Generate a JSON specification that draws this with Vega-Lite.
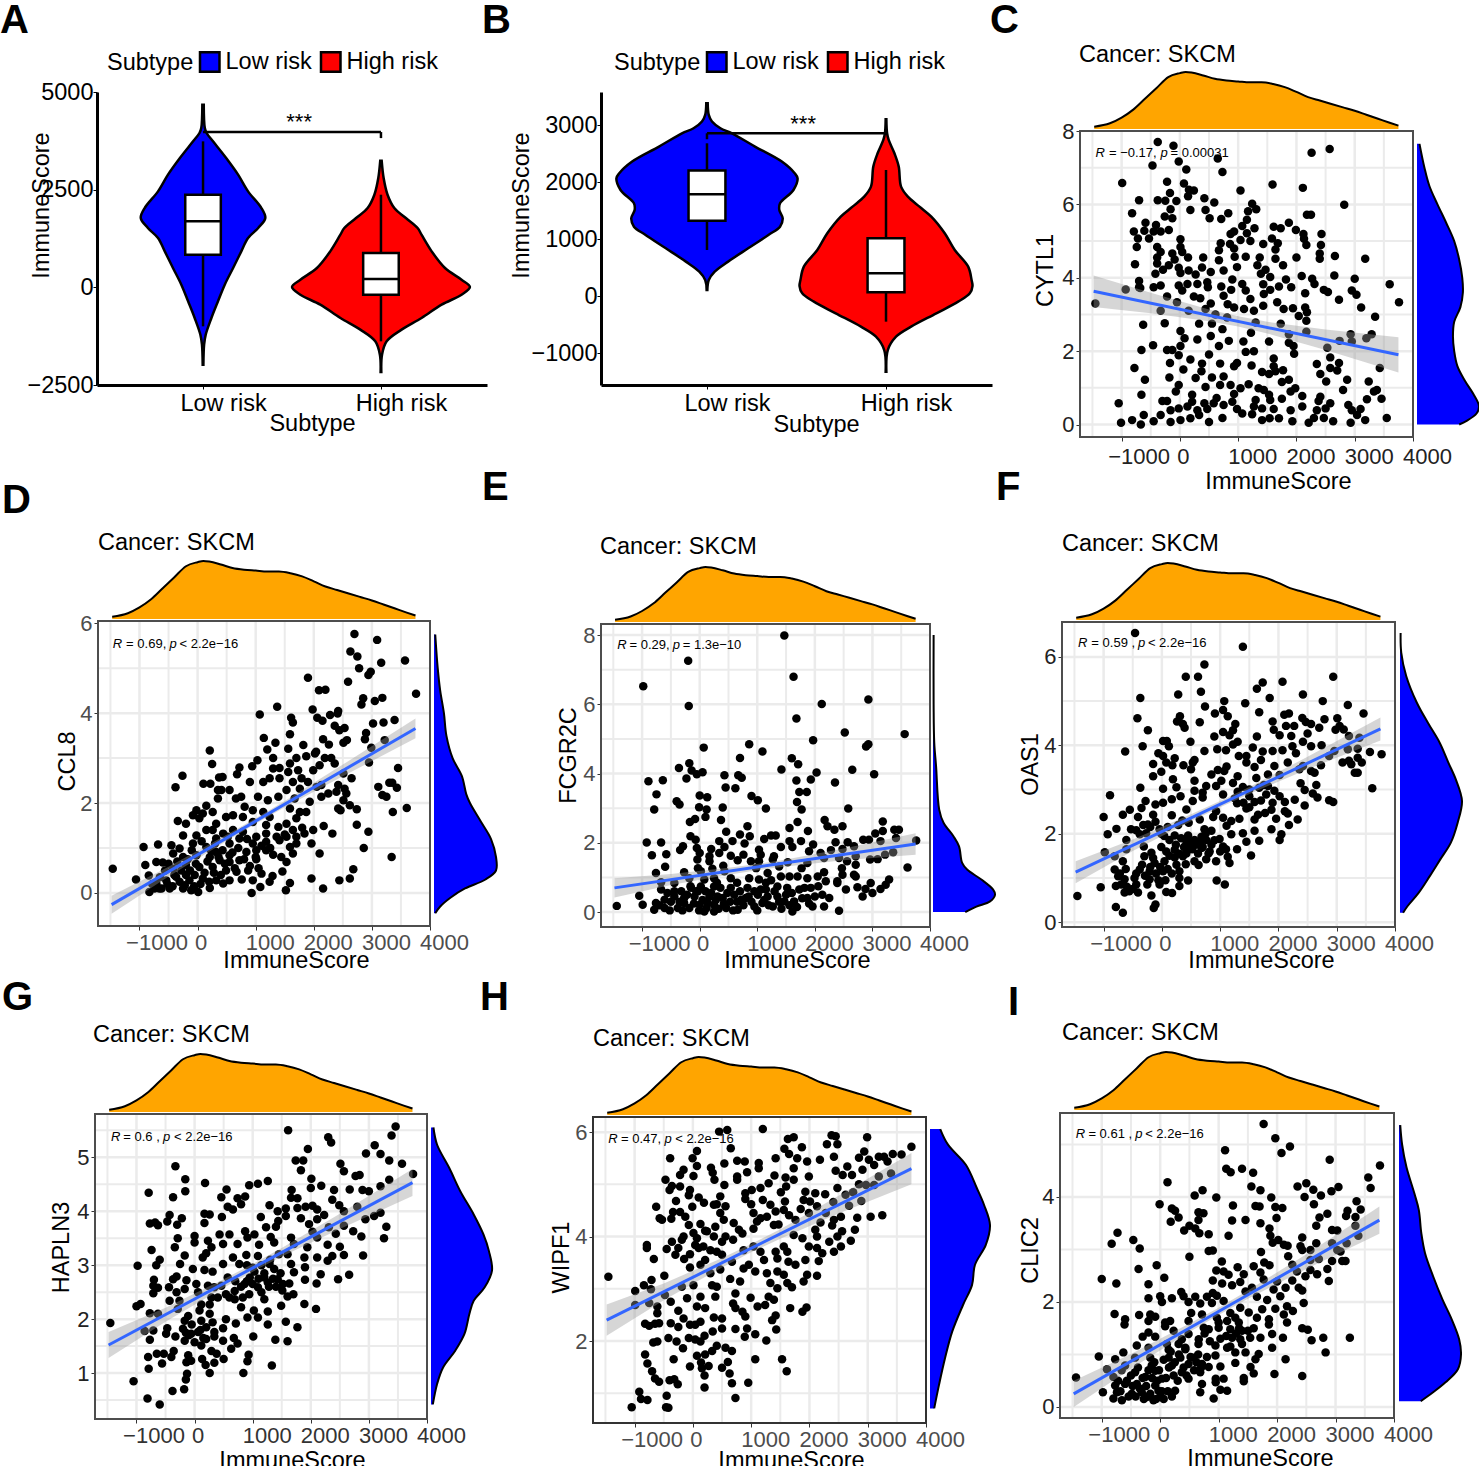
{"$schema":"https://vega.github.io/schema/vega-lite/v6.json","padding":0,"background":"white","config":{"font":"Liberation Sans","view":{"stroke":null},"title":{"fontSize":23.5,"fontWeight":"normal","anchor":"start","frame":"group","offset":0,"baseline":"alphabetic"},"axis":{"labelFontSize":22,"titleFontSize":23.5,"titleFontWeight":"normal","titleColor":"black","labelOverlap":false,"labelBound":false,"labelFlush":false,"domain":false,"grid":false,"tickSize":4,"tickColor":"#333333","labelColor":"#4D4D4D"}},
"datasets":{"none":[],
"top":[{"x":-1470,"d":0.04},{"x":-1200,"d":0.1},{"x":-1000,"d":0.2},{"x":-800,"d":0.34},{"x":-600,"d":0.53},{"x":-400,"d":0.72},{"x":-200,"d":0.91},{"x":0,"d":0.98},{"x":100,"d":1},{"x":200,"d":0.99},{"x":400,"d":0.94},{"x":600,"d":0.88},{"x":800,"d":0.85},{"x":1000,"d":0.835},{"x":1200,"d":0.82},{"x":1400,"d":0.82},{"x":1600,"d":0.79},{"x":1800,"d":0.735},{"x":2000,"d":0.65},{"x":2200,"d":0.56},{"x":2400,"d":0.5},{"x":2600,"d":0.44},{"x":2800,"d":0.38},{"x":3000,"d":0.32},{"x":3200,"d":0.25},{"x":3400,"d":0.18},{"x":3600,"d":0.11},{"x":3750,"d":0.06}],
"violinA":[{"group":"Low risk","y":4675,"l":0.996,"r":1.004},{"group":"Low risk","y":4078,"l":0.99,"r":1.01},{"group":"Low risk","y":3950,"l":0.98,"r":1.02},{"group":"Low risk","y":3737,"l":0.944,"r":1.056},{"group":"Low risk","y":3310,"l":0.87,"r":1.13},{"group":"Low risk","y":2884,"l":0.803,"r":1.197},{"group":"Low risk","y":2457,"l":0.747,"r":1.253},{"group":"Low risk","y":2030,"l":0.672,"r":1.328},{"group":"Low risk","y":1775,"l":0.65,"r":1.35},{"group":"Low risk","y":1519,"l":0.69,"r":1.31},{"group":"Low risk","y":1263,"l":0.747,"r":1.253},{"group":"Low risk","y":921,"l":0.785,"r":1.215},{"group":"Low risk","y":495,"l":0.831,"r":1.169},{"group":"Low risk","y":68,"l":0.878,"r":1.122},{"group":"Low risk","y":-358,"l":0.916,"r":1.084},{"group":"Low risk","y":-785,"l":0.953,"r":1.047},{"group":"Low risk","y":-1211,"l":0.985,"r":1.015},{"group":"Low risk","y":-1467,"l":0.994,"r":1.006},{"group":"Low risk","y":-1979,"l":0.998,"r":1.002},
{"group":"High risk","y":3241,"l":1.996,"r":2.004},{"group":"High risk","y":2798,"l":1.985,"r":2.015},{"group":"High risk","y":2371,"l":1.963,"r":2.037},{"group":"High risk","y":2030,"l":1.925,"r":2.075},{"group":"High risk","y":1774,"l":1.86,"r":2.14},{"group":"High risk","y":1518,"l":1.794,"r":2.206},{"group":"High risk","y":1348,"l":1.772,"r":2.228},{"group":"High risk","y":921,"l":1.715,"r":2.285},{"group":"High risk","y":495,"l":1.64,"r":2.36},{"group":"High risk","y":196,"l":1.547,"r":2.453},{"group":"High risk","y":9,"l":1.5,"r":2.5},{"group":"High risk","y":-188,"l":1.547,"r":2.453},{"group":"High risk","y":-444,"l":1.659,"r":2.341},{"group":"High risk","y":-785,"l":1.772,"r":2.228},{"group":"High risk","y":-1083,"l":1.884,"r":2.116},{"group":"High risk","y":-1382,"l":1.968,"r":2.032},{"group":"High risk","y":-1723,"l":1.994,"r":2.006},{"group":"High risk","y":-2167,"l":1.998,"r":2.002}],
"boxA":[{"c":1,"l":0.9,"r":1.1,"lo":-998,"q1":836,"med":1689,"q3":2371,"hi":3737},{"c":2,"l":1.9,"r":2.1,"lo":-1382,"q1":-188,"med":213,"q3":879,"hi":2371}],
"violinB":[{"group":"Low risk","y":3381,"l":0.996,"r":1.004},{"group":"Low risk","y":3177,"l":0.99,"r":1.01},{"group":"Low risk","y":3060,"l":0.972,"r":1.028},{"group":"Low risk","y":2943,"l":0.925,"r":1.075},{"group":"Low risk","y":2855,"l":0.86,"r":1.14},{"group":"Low risk","y":2621,"l":0.732,"r":1.268},{"group":"Low risk","y":2358,"l":0.582,"r":1.418},{"group":"Low risk","y":2153,"l":0.51,"r":1.49},{"group":"Low risk","y":2065,"l":0.494,"r":1.506},{"group":"Low risk","y":1860,"l":0.517,"r":1.483},{"group":"Low risk","y":1626,"l":0.592,"r":1.408},{"group":"Low risk","y":1509,"l":0.596,"r":1.404},{"group":"Low risk","y":1363,"l":0.577,"r":1.423},{"group":"Low risk","y":1217,"l":0.592,"r":1.408},{"group":"Low risk","y":1071,"l":0.657,"r":1.343},{"group":"Low risk","y":837,"l":0.77,"r":1.23},{"group":"Low risk","y":603,"l":0.882,"r":1.118},{"group":"Low risk","y":427,"l":0.957,"r":1.043},{"group":"Low risk","y":281,"l":0.99,"r":1.01},{"group":"Low risk","y":105,"l":0.998,"r":1.002},
{"group":"High risk","y":3100,"l":1.998,"r":2.002},{"group":"High risk","y":2855,"l":1.994,"r":2.006},{"group":"High risk","y":2738,"l":1.985,"r":2.015},{"group":"High risk","y":2504,"l":1.953,"r":2.047},{"group":"High risk","y":2270,"l":1.929,"r":2.071},{"group":"High risk","y":1919,"l":1.916,"r":2.084},{"group":"High risk","y":1743,"l":1.878,"r":2.122},{"group":"High risk","y":1568,"l":1.813,"r":2.187},{"group":"High risk","y":1392,"l":1.747,"r":2.253},{"group":"High risk","y":1100,"l":1.672,"r":2.328},{"group":"High risk","y":807,"l":1.616,"r":2.384},{"group":"High risk","y":515,"l":1.541,"r":2.459},{"group":"High risk","y":281,"l":1.522,"r":2.478},{"group":"High risk","y":175,"l":1.517,"r":2.483},{"group":"High risk","y":47,"l":1.532,"r":2.468},{"group":"High risk","y":-99,"l":1.597,"r":2.403},{"group":"High risk","y":-304,"l":1.719,"r":2.281},{"group":"High risk","y":-538,"l":1.86,"r":2.14},{"group":"High risk","y":-714,"l":1.944,"r":2.056},{"group":"High risk","y":-948,"l":1.99,"r":2.01},{"group":"High risk","y":-1328,"l":1.998,"r":2.002}],
"boxB":[{"c":1,"l":0.897,"r":1.103,"lo":807,"q1":1322,"med":1784,"q3":2200,"hi":2679},{"c":2,"l":1.897,"r":2.103,"lo":-450,"q1":64,"med":398,"q3":1012,"hi":2211}],
"cytl1":[{"x":-380,"y":7.7},{"x":-110,"y":7.6},{"x":-470,"y":7.06},{"x":-20,"y":7.17},{"x":110,"y":6.95},{"x":650,"y":7.25},{"x":730,"y":6.88},{"x":2260,"y":7.41},{"x":2570,"y":7.51},{"x":-990,"y":6.58},{"x":-220,"y":6.62},{"x":70,"y":6.57},{"x":155,"y":6.4},{"x":240,"y":6.38},{"x":-170,"y":6.31},{"x":-700,"y":6.11},{"x":-380,"y":6.11},{"x":-250,"y":6.1},{"x":-60,"y":6.09},{"x":140,"y":6.22},{"x":420,"y":6.17},{"x":590,"y":6.05},{"x":1040,"y":6.38},{"x":1590,"y":6.54},{"x":2110,"y":6.45},{"x":2820,"y":5.99},{"x":-820,"y":5.76},{"x":-160,"y":5.87},{"x":180,"y":5.85},{"x":440,"y":5.85},{"x":830,"y":5.76},{"x":1240,"y":6.02},{"x":1170,"y":5.81},{"x":1310,"y":5.87},{"x":-260,"y":5.67},{"x":-130,"y":5.62},{"x":510,"y":5.62},{"x":710,"y":5.6},{"x":2180,"y":5.72},{"x":2250,"y":5.72},{"x":-590,"y":5.5},{"x":-410,"y":5.44},{"x":-610,"y":5.28},{"x":-790,"y":5.26},{"x":-450,"y":5.26},{"x":-330,"y":5.26},{"x":-190,"y":5.3},{"x":-720,"y":5.07},{"x":-530,"y":5.07},{"x":-740,"y":4.84},{"x":10,"y":5.05},{"x":10,"y":4.84},{"x":-390,"y":4.84},{"x":1150,"y":5.58},{"x":1070,"y":5.41},{"x":930,"y":5.26},{"x":870,"y":5.19},{"x":1280,"y":5.35},{"x":1150,"y":5.21},{"x":1040,"y":5.03},{"x":1210,"y":5},{"x":860,"y":4.92},{"x":700,"y":4.94},{"x":1610,"y":5.39},{"x":1730,"y":5.35},{"x":1870,"y":5.5},{"x":1990,"y":5.3},{"x":2120,"y":5.19},{"x":2130,"y":5.06},{"x":2430,"y":5.19},{"x":1580,"y":5.07},{"x":1680,"y":4.94},{"x":1430,"y":4.92},{"x":2170,"y":4.89},{"x":2420,"y":4.89},{"x":1640,"y":4.77},{"x":930,"y":4.8},{"x":670,"y":4.75},{"x":2400,"y":4.66},{"x":2400,"y":4.52},{"x":2660,"y":4.59},{"x":3180,"y":4.52},{"x":2000,"y":4.55},{"x":1640,"y":4.52},{"x":1370,"y":4.55},{"x":1130,"y":4.57},{"x":940,"y":4.57},{"x":670,"y":4.48},{"x":400,"y":4.55},{"x":140,"y":4.55},{"x":40,"y":4.7},{"x":-130,"y":4.66},{"x":-330,"y":4.7},{"x":-390,"y":4.55},{"x":-90,"y":4.5},{"x":-770,"y":4.37},{"x":-390,"y":4.39},{"x":-190,"y":4.34},{"x":-290,"y":4.22},{"x":-20,"y":4.27},{"x":-420,"y":4.11},{"x":10,"y":4.13},{"x":150,"y":4.2},{"x":270,"y":4.09},{"x":380,"y":4.28},{"x":530,"y":4.16},{"x":750,"y":4.2},{"x":980,"y":4.29},{"x":1330,"y":4.34},{"x":1470,"y":4.22},{"x":1390,"y":4.11},{"x":1770,"y":4.34},{"x":2090,"y":4.05},{"x":1550,"y":4.02},{"x":1820,"y":3.95},{"x":2270,"y":3.97},{"x":3000,"y":3.97},{"x":2650,"y":4.06},{"x":-700,"y":3.91},{"x":-700,"y":3.74},{"x":-450,"y":3.74},{"x":-330,"y":3.79},{"x":-20,"y":3.79},{"x":130,"y":3.83},{"x":40,"y":3.65},{"x":300,"y":3.83},{"x":470,"y":3.88},{"x":480,"y":3.74},{"x":710,"y":3.76},{"x":750,"y":3.51},{"x":900,"y":3.95},{"x":880,"y":3.67},{"x":1070,"y":3.83},{"x":1130,"y":3.65},{"x":1430,"y":3.82},{"x":1440,"y":3.56},{"x":1550,"y":3.67},{"x":1700,"y":3.76},{"x":1910,"y":3.74},{"x":2150,"y":3.58},{"x":2310,"y":3.83},{"x":2470,"y":3.67},{"x":2540,"y":3.61},{"x":2950,"y":3.65},{"x":3030,"y":3.54},{"x":3600,"y":3.82},{"x":2730,"y":3.4},{"x":3110,"y":3.19},{"x":3760,"y":3.33},{"x":-1450,"y":3.3},{"x":-930,"y":3.68},{"x":-680,"y":3.72},{"x":-220,"y":3.49},{"x":-50,"y":3.33},{"x":240,"y":3.49},{"x":350,"y":3.44},{"x":530,"y":3.3},{"x":820,"y":3.28},{"x":1210,"y":3.42},{"x":1670,"y":3.33},{"x":1430,"y":3.24},{"x":1780,"y":3.15},{"x":1940,"y":3.17},{"x":2150,"y":3.19},{"x":2180,"y":3.06},{"x":2040,"y":2.96},{"x":-330,"y":3.1},{"x":150,"y":3.1},{"x":440,"y":3.15},{"x":610,"y":3},{"x":930,"y":3.19},{"x":1100,"y":3.15},{"x":1270,"y":3.1},{"x":810,"y":2.92},{"x":1300,"y":2.78},{"x":2170,"y":2.83},{"x":1730,"y":2.75},{"x":330,"y":2.75},{"x":550,"y":2.75},{"x":-630,"y":2.72},{"x":-260,"y":2.76},{"x":3350,"y":2.94},{"x":10,"y":2.55},{"x":730,"y":2.6},{"x":1220,"y":2.5},{"x":2170,"y":2.53},{"x":1870,"y":2.46},{"x":2930,"y":2.46},{"x":3290,"y":2.46},{"x":3200,"y":2.35},{"x":80,"y":2.35},{"x":530,"y":2.41},{"x":300,"y":2.32},{"x":1530,"y":2.26},{"x":2740,"y":2.28},{"x":2950,"y":2.26},{"x":1870,"y":2.23},{"x":1090,"y":2.26},{"x":-460,"y":2.16},{"x":10,"y":2.14},{"x":670,"y":2.14},{"x":840,"y":2.28},{"x":1950,"y":2.14},{"x":2530,"y":2.09},{"x":-660,"y":2.03},{"x":-220,"y":2.03},{"x":-130,"y":2.03},{"x":1270,"y":2},{"x":1130,"y":1.98},{"x":1960,"y":1.93},{"x":-20,"y":1.89},{"x":500,"y":1.91},{"x":180,"y":1.77},{"x":1610,"y":1.8},{"x":2580,"y":1.83},{"x":-170,"y":1.68},{"x":380,"y":1.66},{"x":690,"y":1.66},{"x":980,"y":1.68},{"x":930,"y":1.59},{"x":2350,"y":1.65},{"x":2730,"y":1.68},{"x":1230,"y":1.61},{"x":1610,"y":1.59},{"x":-780,"y":1.54},{"x":60,"y":1.5},{"x":370,"y":1.45},{"x":1770,"y":1.48},{"x":2580,"y":1.54},{"x":3430,"y":1.54},{"x":1410,"y":1.43},{"x":1530,"y":1.38},{"x":1640,"y":1.45},{"x":2410,"y":1.38},{"x":2700,"y":1.47},{"x":-600,"y":1.22},{"x":-180,"y":1.28},{"x":270,"y":1.27},{"x":550,"y":1.28},{"x":750,"y":1.31},{"x":2510,"y":1.17},{"x":2870,"y":1.22},{"x":3240,"y":1.17},{"x":1750,"y":1.16},{"x":1870,"y":1.22},{"x":1180,"y":1.1},{"x":-20,"y":1.08},{"x":690,"y":1.08},{"x":870,"y":1.08},{"x":-70,"y":0.9},{"x":440,"y":1.02},{"x":1040,"y":0.99},{"x":1350,"y":0.99},{"x":1440,"y":0.94},{"x":1980,"y":0.99},{"x":1900,"y":0.9},{"x":2800,"y":0.94},{"x":3380,"y":0.94},{"x":3330,"y":0.9},{"x":-660,"y":0.81},{"x":210,"y":0.81},{"x":630,"y":0.72},{"x":930,"y":0.83},{"x":1530,"y":0.81},{"x":2100,"y":0.78},{"x":2410,"y":0.76},{"x":3460,"y":0.7},{"x":3210,"y":0.69},{"x":-1050,"y":0.58},{"x":-300,"y":0.64},{"x":-220,"y":0.64},{"x":210,"y":0.62},{"x":420,"y":0.58},{"x":580,"y":0.58},{"x":900,"y":0.62},{"x":1300,"y":0.67},{"x":1550,"y":0.67},{"x":1750,"y":0.7},{"x":2380,"y":0.64},{"x":2580,"y":0.58},{"x":2890,"y":0.53},{"x":-160,"y":0.39},{"x":-20,"y":0.44},{"x":130,"y":0.49},{"x":300,"y":0.39},{"x":470,"y":0.42},{"x":750,"y":0.53},{"x":980,"y":0.42},{"x":1270,"y":0.49},{"x":1410,"y":0.44},{"x":1610,"y":0.42},{"x":1900,"y":0.39},{"x":2100,"y":0.49},{"x":2350,"y":0.39},{"x":2500,"y":0.44},{"x":2950,"y":0.39},{"x":3100,"y":0.42},{"x":-1010,"y":0.05},{"x":-820,"y":0.12},{"x":-670,"y":0},{"x":-620,"y":0.26},{"x":-450,"y":0.09},{"x":-330,"y":0.26},{"x":-160,"y":0.07},{"x":10,"y":0.12},{"x":180,"y":0.17},{"x":330,"y":0.26},{"x":500,"y":0.07},{"x":730,"y":0.18},{"x":1070,"y":0.3},{"x":1240,"y":0.28},{"x":1410,"y":0.12},{"x":1540,"y":0.17},{"x":1700,"y":0.17},{"x":1930,"y":0.09},{"x":2210,"y":0.05},{"x":2300,"y":0.18},{"x":2630,"y":0.09},{"x":2470,"y":0.18},{"x":2930,"y":0.05},{"x":3040,"y":0.26},{"x":3180,"y":0.12},{"x":3550,"y":0.18}],
"ccl8":[{"x":-1460,"y":0.54},{"x":-1060,"y":0.3},{"x":-930,"y":1.02},{"x":-900,"y":0.62},{"x":-680,"y":1.08},{"x":-840,"y":0.39},{"x":-710,"y":0.69},{"x":-600,"y":0.68},{"x":-450,"y":1.06},{"x":-420,"y":0.88},{"x":-340,"y":1.6},{"x":-380,"y":2.35},{"x":-260,"y":2.61},{"x":100,"y":2.43},{"x":220,"y":2.43},{"x":210,"y":3.17},{"x":250,"y":2.87},{"x":370,"y":2.57},{"x":430,"y":2.58},{"x":350,"y":2.29},{"x":410,"y":2.29},{"x":350,"y":2.1},{"x":550,"y":2.29},{"x":680,"y":2.64},{"x":720,"y":2.79},{"x":940,"y":2.82},{"x":1030,"y":2.95},{"x":900,"y":2.47},{"x":1070,"y":3.97},{"x":1370,"y":4.14},{"x":1140,"y":3.45},{"x":1340,"y":3.34},{"x":1200,"y":3.19},{"x":1300,"y":3},{"x":1560,"y":3.21},{"x":1590,"y":3.53},{"x":1610,"y":3.9},{"x":1640,"y":3.79},{"x":1820,"y":3.29},{"x":1900,"y":4.79},{"x":1980,"y":4.08},{"x":2060,"y":3.9},{"x":2150,"y":3.83},{"x":2090,"y":4.51},{"x":2200,"y":4.52},{"x":2280,"y":3.96},{"x":2420,"y":4.05},{"x":2410,"y":3.99},{"x":2360,"y":3.72},{"x":2440,"y":3.62},{"x":2530,"y":3.67},{"x":2160,"y":3.42},{"x":2260,"y":3.3},{"x":2510,"y":3.34},{"x":2570,"y":3.4},{"x":2590,"y":4.7},{"x":2630,"y":5.37},{"x":2700,"y":5.76},{"x":2750,"y":5.26},{"x":2780,"y":5},{"x":2940,"y":4.85},{"x":2980,"y":4.92},{"x":3090,"y":5.63},{"x":3160,"y":5.12},{"x":3570,"y":5.17},{"x":3760,"y":4.43},{"x":2850,"y":4.33},{"x":2820,"y":4.19},{"x":3050,"y":4.27},{"x":3180,"y":4.34},{"x":3020,"y":3.77},{"x":3200,"y":3.79},{"x":3390,"y":3.85},{"x":2900,"y":3.56},{"x":2880,"y":3.42},{"x":3220,"y":3.4},{"x":2990,"y":3.23},{"x":2950,"y":2.9},{"x":3450,"y":2.78},{"x":3110,"y":2.36},{"x":3300,"y":2.45},{"x":3350,"y":2.45},{"x":3430,"y":2.34},{"x":3180,"y":2.18},{"x":3250,"y":2.14},{"x":3360,"y":1.8},{"x":3600,"y":1.89},{"x":3340,"y":0.8},{"x":2940,"y":1.36},{"x":2740,"y":1.52},{"x":2860,"y":1},{"x":2680,"y":0.53},{"x":2620,"y":0.32},{"x":2440,"y":0.28},{"x":2160,"y":0.1},{"x":1960,"y":0.32},{"x":2100,"y":0.88},{"x":2320,"y":1.32},{"x":2170,"y":1.49},{"x":1520,"y":0.06},{"x":1590,"y":0.22},{"x":930,"y":0},{"x":1080,"y":0.13},{"x":1240,"y":0.25},{"x":1290,"y":0.38},{"x":1460,"y":0.48},{"x":1530,"y":0.69},{"x":1440,"y":0.8},{"x":1640,"y":0.88},{"x":1410,"y":2.78},{"x":1590,"y":2.88},{"x":1700,"y":3},{"x":1870,"y":3.04},{"x":2020,"y":3.1},{"x":2040,"y":3.14},{"x":2190,"y":3},{"x":2300,"y":3},{"x":2360,"y":2.88},{"x":1990,"y":2.73},{"x":2100,"y":2.84},{"x":1560,"y":2.69},{"x":1730,"y":2.73},{"x":1300,"y":2.77},{"x":1240,"y":2.55},{"x":1130,"y":2.47},{"x":1410,"y":2.55},{"x":1640,"y":2.47},{"x":1790,"y":2.55},{"x":1900,"y":2.47},{"x":1760,"y":2.32},{"x":2050,"y":2.36},{"x":2130,"y":2.4},{"x":2420,"y":2.4},{"x":2530,"y":2.32},{"x":2650,"y":2.55},{"x":2510,"y":2.66},{"x":2130,"y":2.14},{"x":2250,"y":2.21},{"x":2390,"y":2.25},{"x":2560,"y":2.21},{"x":2510,"y":2.06},{"x":2620,"y":1.95},{"x":2740,"y":1.86},{"x":2420,"y":1.88},{"x":2460,"y":1.84},{"x":1930,"y":2.03},{"x":1670,"y":2.1},{"x":1530,"y":2.29},{"x":1390,"y":2.14},{"x":1210,"y":2.06},{"x":1040,"y":2.14},{"x":750,"y":2.14},{"x":660,"y":2.1},{"x":150,"y":1.94},{"x":-20,"y":1.84},{"x":260,"y":1.8},{"x":90,"y":1.77},{"x":810,"y":1.92},{"x":950,"y":1.84},{"x":1130,"y":1.8},{"x":1240,"y":1.69},{"x":1590,"y":1.88},{"x":1760,"y":1.8},{"x":1870,"y":1.8},{"x":1700,"y":1.66},{"x":1530,"y":1.54},{"x":1390,"y":1.47},{"x":1180,"y":1.51},{"x":950,"y":1.58},{"x":780,"y":1.69},{"x":610,"y":1.73},{"x":490,"y":1.69},{"x":320,"y":1.54},{"x":30,"y":1.66},{"x":-80,"y":1.73},{"x":-200,"y":1.54},{"x":150,"y":1.4},{"x":260,"y":1.4},{"x":440,"y":1.32},{"x":610,"y":1.4},{"x":780,"y":1.36},{"x":1010,"y":1.25},{"x":1180,"y":1.32},{"x":1360,"y":1.25},{"x":1530,"y":1.25},{"x":1640,"y":1.4},{"x":1840,"y":1.32},{"x":1990,"y":1.4},{"x":1960,"y":1.1},{"x":1700,"y":1.1},{"x":1590,"y":1.02},{"x":1410,"y":1.17},{"x":1180,"y":1.14},{"x":950,"y":1.1},{"x":720,"y":1.21},{"x":550,"y":1.1},{"x":320,"y":1.21},{"x":-20,"y":1.28},{"x":-250,"y":1.28},{"x":-80,"y":1.1},{"x":150,"y":1.02},{"x":-310,"y":0.99},{"x":320,"y":0.91},{"x":550,"y":0.84},{"x":840,"y":0.91},{"x":1010,"y":0.95},{"x":1180,"y":0.95},{"x":720,"y":0.73},{"x":1010,"y":0.75},{"x":550,"y":0.69},{"x":380,"y":0.73},{"x":210,"y":0.8},{"x":-20,"y":0.84},{"x":-250,"y":0.8},{"x":-420,"y":0.54},{"x":-200,"y":0.62},{"x":30,"y":0.58},{"x":260,"y":0.58},{"x":490,"y":0.5},{"x":670,"y":0.47},{"x":870,"y":0.5},{"x":1100,"y":0.43},{"x":950,"y":0.28},{"x":550,"y":0.28},{"x":320,"y":0.28},{"x":90,"y":0.32},{"x":-140,"y":0.28},{"x":-370,"y":0.36},{"x":-540,"y":0.28},{"x":-710,"y":0.21},{"x":-830,"y":0.02},{"x":-660,"y":0.1},{"x":-480,"y":0.1},{"x":-220,"y":0.17},{"x":-110,"y":0.06},{"x":10,"y":0.02},{"x":210,"y":0.11},{"x":440,"y":0.21},{"x":-780,"y":0.2},{"x":-740,"y":0.1},{"x":-650,"y":0.35},{"x":-620,"y":0.1},{"x":-560,"y":0.5},{"x":-520,"y":0.2},{"x":-500,"y":0.65},{"x":-430,"y":0.15},{"x":-400,"y":0.4},{"x":-350,"y":0.7},{"x":-310,"y":0.25},{"x":-280,"y":0.5},{"x":-250,"y":0.1},{"x":-200,"y":0.4},{"x":-170,"y":0.75},{"x":-130,"y":0.5},{"x":-100,"y":0.95},{"x":-60,"y":0.15},{"x":-50,"y":0.4},{"x":-30,"y":0.65},{"x":50,"y":0.2},{"x":70,"y":1.15},{"x":120,"y":0.45},{"x":170,"y":0.7},{"x":200,"y":0.25},{"x":230,"y":0.95},{"x":280,"y":0.45},{"x":300,"y":1.1},{"x":360,"y":0.8},{"x":400,"y":0.4},{"x":430,"y":0.95},{"x":470,"y":0.65},{"x":520,"y":1.25},{"x":600,"y":0.9},{"x":640,"y":0.55},{"x":700,"y":1},{"x":760,"y":0.3},{"x":800,"y":0.75},{"x":850,"y":1.2},{"x":900,"y":0.6},{"x":1000,"y":0.8},{"x":1050,"y":0.55},{"x":1100,"y":1.05},{"x":1250,"y":1},{"x":1300,"y":0.85},{"x":1500,"y":1.3},{"x":1700,"y":1.25},{"x":1800,"y":1.45}],
"fcgr2c":[{"x":-1440,"y":0.18},{"x":-1050,"y":0.47},{"x":-990,"y":0.21},{"x":-980,"y":6.52},{"x":-200,"y":7.26},{"x":1470,"y":7.99},{"x":-190,"y":5.95},{"x":1630,"y":6.8},{"x":2120,"y":6.01},{"x":2930,"y":6.14},{"x":1680,"y":5.59},{"x":2520,"y":5.19},{"x":3560,"y":5.14},{"x":1970,"y":4.96},{"x":860,"y":4.85},{"x":70,"y":4.75},{"x":1090,"y":4.64},{"x":2930,"y":4.85},{"x":2890,"y":4.78},{"x":1600,"y":4.44},{"x":700,"y":4.45},{"x":-180,"y":4.3},{"x":-360,"y":4.16},{"x":1710,"y":4.27},{"x":1420,"y":4.12},{"x":2650,"y":4.11},{"x":-140,"y":4.09},{"x":50,"y":4.04},{"x":-50,"y":3.98},{"x":2030,"y":4.03},{"x":3030,"y":3.98},{"x":430,"y":3.95},{"x":670,"y":3.95},{"x":730,"y":3.88},{"x":-890,"y":3.78},{"x":-640,"y":3.81},{"x":-230,"y":3.86},{"x":1930,"y":3.83},{"x":1680,"y":3.8},{"x":2350,"y":3.74},{"x":450,"y":3.6},{"x":620,"y":3.58},{"x":1730,"y":3.47},{"x":1860,"y":3.47},{"x":-750,"y":3.4},{"x":0,"y":3.37},{"x":130,"y":3.32},{"x":900,"y":3.35},{"x":1010,"y":3.23},{"x":-400,"y":3.2},{"x":-350,"y":3.11},{"x":1690,"y":3.18},{"x":-790,"y":2.96},{"x":-10,"y":3.03},{"x":120,"y":2.96},{"x":400,"y":3.02},{"x":1150,"y":2.99},{"x":1770,"y":2.96},{"x":2580,"y":2.99},{"x":100,"y":2.75},{"x":-80,"y":2.69},{"x":-170,"y":2.6},{"x":370,"y":2.66},{"x":1700,"y":2.6},{"x":2170,"y":2.66},{"x":3180,"y":2.62},{"x":830,"y":2.48},{"x":2220,"y":2.48},{"x":2480,"y":2.48},{"x":2340,"y":2.38},{"x":1560,"y":2.43},{"x":1880,"y":2.34},{"x":460,"y":2.32},{"x":700,"y":2.24},{"x":870,"y":2.19},{"x":-160,"y":2.19},{"x":-70,"y":2.09},{"x":-920,"y":2.01},{"x":-670,"y":2.01},{"x":340,"y":2.05},{"x":570,"y":2.05},{"x":780,"y":1.98},{"x":1120,"y":2.11},{"x":1240,"y":2.21},{"x":1320,"y":2.21},{"x":1560,"y":2.05},{"x":1760,"y":2.05},{"x":1970,"y":1.95},{"x":2360,"y":2.02},{"x":2570,"y":2.02},{"x":2840,"y":2.09},{"x":2940,"y":2.09},{"x":3050,"y":2.27},{"x":3180,"y":2.34},{"x":3380,"y":2.38},{"x":3460,"y":2.38},{"x":3760,"y":2.07},{"x":3140,"y":2.05},{"x":3410,"y":2.14},{"x":-290,"y":1.9},{"x":-340,"y":1.79},{"x":-50,"y":1.85},{"x":200,"y":1.82},{"x":0,"y":1.71},{"x":430,"y":1.88},{"x":1030,"y":1.8},{"x":1410,"y":1.88},{"x":1610,"y":1.88},{"x":1900,"y":1.76},{"x":2100,"y":1.71},{"x":2280,"y":1.79},{"x":2480,"y":1.82},{"x":2680,"y":1.9},{"x":340,"y":1.71},{"x":540,"y":1.63},{"x":760,"y":1.66},{"x":1060,"y":1.66},{"x":1290,"y":1.61},{"x":-830,"y":1.64},{"x":-580,"y":1.67},{"x":170,"y":1.61},{"x":-40,"y":1.52},{"x":170,"y":1.47},{"x":660,"y":1.5},{"x":890,"y":1.47},{"x":1030,"y":1.47},{"x":1270,"y":1.52},{"x":1530,"y":1.44},{"x":1870,"y":1.42},{"x":2160,"y":1.56},{"x":2420,"y":1.56},{"x":2710,"y":1.61},{"x":2960,"y":1.52},{"x":3090,"y":1.53},{"x":3220,"y":1.66},{"x":3360,"y":1.73},{"x":2560,"y":1.47},{"x":-600,"y":1.31},{"x":-30,"y":1.27},{"x":220,"y":1.25},{"x":410,"y":1.34},{"x":980,"y":1.27},{"x":1380,"y":1.32},{"x":1770,"y":1.27},{"x":2160,"y":1.15},{"x":2470,"y":1.27},{"x":2710,"y":1.37},{"x":3610,"y":1.29},{"x":-760,"y":1.13},{"x":-270,"y":1.15},{"x":20,"y":1.18},{"x":430,"y":1.18},{"x":1180,"y":1.13},{"x":2480,"y":1.08},{"x":2680,"y":1.08},{"x":1560,"y":1.03},{"x":1700,"y":1.03},{"x":1870,"y":0.98},{"x":2050,"y":1.03},{"x":2190,"y":0.89},{"x":2390,"y":0.84},{"x":2710,"y":1.03},{"x":-670,"y":0.86},{"x":-440,"y":0.84},{"x":-180,"y":0.98},{"x":80,"y":0.94},{"x":250,"y":0.98},{"x":540,"y":0.98},{"x":860,"y":0.98},{"x":1030,"y":0.94},{"x":1240,"y":0.92},{"x":1410,"y":1.03},{"x":3290,"y":0.94},{"x":2970,"y":0.84},{"x":3230,"y":0.79},{"x":2740,"y":0.72},{"x":2880,"y":0.67},{"x":3140,"y":0.67},{"x":-670,"y":0.65},{"x":-440,"y":0.6},{"x":-150,"y":0.7},{"x":20,"y":0.74},{"x":250,"y":0.74},{"x":540,"y":0.7},{"x":830,"y":0.7},{"x":1060,"y":0.65},{"x":1350,"y":0.74},{"x":1520,"y":0.7},{"x":1730,"y":0.65},{"x":1930,"y":0.7},{"x":2130,"y":0.5},{"x":2390,"y":0.89},{"x":2540,"y":0.65},{"x":3000,"y":0.55},{"x":2830,"y":0.45},{"x":-760,"y":0.26},{"x":-790,"y":0.07},{"x":-610,"y":0.36},{"x":-610,"y":0.12},{"x":-440,"y":0.45},{"x":-380,"y":0.12},{"x":-270,"y":0.41},{"x":-180,"y":0.12},{"x":-90,"y":0.45},{"x":0,"y":0.21},{"x":80,"y":0.02},{"x":170,"y":0.45},{"x":250,"y":0.21},{"x":400,"y":0.41},{"x":460,"y":0.12},{"x":600,"y":0.5},{"x":660,"y":0.07},{"x":800,"y":0.41},{"x":950,"y":0.16},{"x":1010,"y":0.5},{"x":1090,"y":0.26},{"x":1270,"y":0.16},{"x":1350,"y":0.45},{"x":1470,"y":0.31},{"x":1640,"y":0.31},{"x":1610,"y":0.02},{"x":1870,"y":0.41},{"x":1960,"y":0.16},{"x":2160,"y":0.16},{"x":2250,"y":0.41},{"x":2420,"y":0.04},{"x":140,"y":0.26},{"x":310,"y":0.45},{"x":720,"y":0.36},{"x":1180,"y":0.45},{"x":-30,"y":0.6},{"x":250,"y":0.02},{"x":-270,"y":0.26},{"x":-700,"y":0.2},{"x":-500,"y":0.3},{"x":-520,"y":0.05},{"x":-350,"y":0.3},{"x":-300,"y":0.05},{"x":-220,"y":0.5},{"x":-100,"y":0.25},{"x":-60,"y":0.6},{"x":-10,"y":0.05},{"x":50,"y":0.35},{"x":100,"y":0.6},{"x":120,"y":0.12},{"x":200,"y":0.55},{"x":280,"y":0.35},{"x":330,"y":0.1},{"x":360,"y":0.7},{"x":420,"y":0.25},{"x":480,"y":0.55},{"x":530,"y":0.3},{"x":580,"y":0.05},{"x":650,"y":0.3},{"x":700,"y":0.6},{"x":760,"y":0.2},{"x":850,"y":0.45},{"x":900,"y":0.3},{"x":950,"y":0.6},{"x":1000,"y":0.05},{"x":1120,"y":0.35},{"x":1150,"y":0.65},{"x":1200,"y":0.2},{"x":1300,"y":0.6},{"x":1380,"y":0.3},{"x":1420,"y":0.1},{"x":1500,"y":0.5},{"x":1560,"y":0.2},{"x":1600,"y":0.55},{"x":1690,"y":0.15},{"x":1780,"y":0.4},{"x":1820,"y":0.7},{"x":1900,"y":0.25},{"x":2000,"y":0.45},{"x":2060,"y":0.75},{"x":-160,"y":0.75},{"x":-320,"y":0.6},{"x":-560,"y":0.55},{"x":300,"y":0.85},{"x":650,"y":0.85},{"x":1150,"y":0.85}],
"oas1":[{"x":-1450,"y":0.59},{"x":-1050,"y":0.79},{"x":-460,"y":6.54},{"x":1390,"y":6.23},{"x":730,"y":5.83},{"x":410,"y":5.55},{"x":620,"y":5.55},{"x":2940,"y":5.55},{"x":1730,"y":5.42},{"x":2070,"y":5.44},{"x":1630,"y":5.28},{"x":670,"y":5.21},{"x":280,"y":5.15},{"x":-370,"y":5.07},{"x":2420,"y":5.15},{"x":1850,"y":5.07},{"x":2760,"y":5},{"x":1070,"y":5},{"x":1430,"y":4.95},{"x":740,"y":4.88},{"x":3190,"y":4.91},{"x":1050,"y":4.8},{"x":1670,"y":4.75},{"x":910,"y":4.72},{"x":3460,"y":4.72},{"x":2100,"y":4.69},{"x":2180,"y":4.72},{"x":1130,"y":4.66},{"x":-420,"y":4.61},{"x":310,"y":4.66},{"x":2410,"y":4.62},{"x":3010,"y":4.61},{"x":2790,"y":4.59},{"x":260,"y":4.54},{"x":650,"y":4.52},{"x":360,"y":4.48},{"x":1900,"y":4.54},{"x":2470,"y":4.53},{"x":2560,"y":4.48},{"x":1260,"y":4.48},{"x":390,"y":4.4},{"x":-240,"y":4.34},{"x":2130,"y":4.44},{"x":2270,"y":4.44},{"x":2700,"y":4.4},{"x":3050,"y":4.44},{"x":3120,"y":4.36},{"x":1920,"y":4.35},{"x":1220,"y":4.34},{"x":1050,"y":4.3},{"x":2500,"y":4.27},{"x":1160,"y":4.23},{"x":900,"y":4.2},{"x":1630,"y":4.2},{"x":2020,"y":4.23},{"x":2220,"y":4.21},{"x":3210,"y":4.21},{"x":3390,"y":4.17},{"x":2980,"y":4.35},{"x":490,"y":4.08},{"x":1300,"y":4.08},{"x":20,"y":4.1},{"x":85,"y":4.1},{"x":1220,"y":4.02},{"x":2420,"y":4.08},{"x":2560,"y":3.98},{"x":2240,"y":3.98},{"x":-330,"y":3.98},{"x":120,"y":3.98},{"x":1560,"y":3.95},{"x":950,"y":3.91},{"x":1100,"y":3.89},{"x":-630,"y":3.86},{"x":730,"y":3.87},{"x":1730,"y":3.86},{"x":1900,"y":3.87},{"x":2070,"y":3.89},{"x":2740,"y":4},{"x":3190,"y":3.91},{"x":3360,"y":3.92},{"x":3570,"y":3.85},{"x":3770,"y":3.8},{"x":-60,"y":3.82},{"x":2300,"y":3.82},{"x":20,"y":3.76},{"x":220,"y":3.71},{"x":1320,"y":3.76},{"x":1450,"y":3.76},{"x":1700,"y":3.67},{"x":2870,"y":3.76},{"x":2960,"y":3.87},{"x":3360,"y":3.72},{"x":560,"y":3.67},{"x":75,"y":3.61},{"x":-150,"y":3.58},{"x":530,"y":3.61},{"x":370,"y":3.55},{"x":180,"y":3.55},{"x":2160,"y":3.61},{"x":3210,"y":3.65},{"x":3100,"y":3.61},{"x":2420,"y":3.53},{"x":3430,"y":3.61},{"x":1590,"y":3.51},{"x":1450,"y":3.61},{"x":1110,"y":3.52},{"x":1930,"y":3.53},{"x":2730,"y":3.55},{"x":3250,"y":3.57},{"x":500,"y":3.46},{"x":960,"y":3.44},{"x":1070,"y":3.42},{"x":2360,"y":3.46},{"x":2560,"y":3.42},{"x":2620,"y":3.38},{"x":-10,"y":3.4},{"x":850,"y":3.34},{"x":3310,"y":3.38},{"x":3360,"y":3.38},{"x":-150,"y":3.3},{"x":1300,"y":3.3},{"x":2020,"y":3.33},{"x":560,"y":3.2},{"x":190,"y":3.23},{"x":1020,"y":3.2},{"x":1620,"y":3.26},{"x":1820,"y":3.34},{"x":1220,"y":3.15},{"x":2380,"y":3.14},{"x":2650,"y":3.1},{"x":-370,"y":3.04},{"x":20,"y":3.02},{"x":250,"y":3.05},{"x":760,"y":3.08},{"x":930,"y":3.08},{"x":1820,"y":3.08},{"x":3610,"y":3.03},{"x":1390,"y":3.06},{"x":1670,"y":3.04},{"x":2450,"y":2.99},{"x":-890,"y":2.87},{"x":560,"y":2.97},{"x":700,"y":2.93},{"x":1930,"y":2.97},{"x":2590,"y":2.91},{"x":320,"y":2.85},{"x":700,"y":2.82},{"x":1050,"y":2.89},{"x":1500,"y":2.85},{"x":1790,"y":2.89},{"x":2020,"y":2.85},{"x":2670,"y":2.82},{"x":170,"y":2.78},{"x":-280,"y":2.74},{"x":20,"y":2.7},{"x":530,"y":2.74},{"x":1590,"y":2.72},{"x":1290,"y":2.69},{"x":2280,"y":2.77},{"x":2870,"y":2.76},{"x":2940,"y":2.72},{"x":2110,"y":2.72},{"x":-110,"y":2.66},{"x":-350,"y":2.58},{"x":2450,"y":2.64},{"x":-550,"y":2.54},{"x":420,"y":2.55},{"x":1450,"y":2.57},{"x":1880,"y":2.54},{"x":930,"y":2.51},{"x":2110,"y":2.51},{"x":-1000,"y":2.38},{"x":-670,"y":2.43},{"x":-410,"y":2.38},{"x":170,"y":2.42},{"x":-150,"y":2.43},{"x":880,"y":2.38},{"x":1050,"y":2.36},{"x":1650,"y":2.43},{"x":1770,"y":2.47},{"x":1960,"y":2.34},{"x":2160,"y":2.46},{"x":2330,"y":2.32},{"x":1590,"y":2.32},{"x":650,"y":2.32},{"x":1330,"y":2.34},{"x":-110,"y":2.27},{"x":-240,"y":2.21},{"x":1190,"y":2.29},{"x":460,"y":2.25},{"x":-780,"y":2.11},{"x":-530,"y":2.1},{"x":-440,"y":2.08},{"x":2180,"y":2.2},{"x":1110,"y":2.18},{"x":1880,"y":2.1},{"x":1590,"y":2.07},{"x":730,"y":2.1},{"x":850,"y":2.07},{"x":-270,"y":2.01},{"x":-10,"y":2},{"x":-930,"y":1.99},{"x":1190,"y":1.99},{"x":1390,"y":2.01},{"x":2050,"y":1.99},{"x":220,"y":1.96},{"x":450,"y":1.96},{"x":990,"y":1.88},{"x":680,"y":1.93},{"x":-380,"y":1.99},{"x":-610,"y":1.86},{"x":130,"y":1.86},{"x":2020,"y":1.86},{"x":1670,"y":1.84},{"x":1450,"y":1.82},{"x":420,"y":1.83},{"x":560,"y":1.86},{"x":760,"y":1.86},{"x":-310,"y":1.71},{"x":1050,"y":1.71},{"x":1290,"y":1.65},{"x":-610,"y":1.65},{"x":-10,"y":1.7},{"x":220,"y":1.64},{"x":450,"y":1.68},{"x":680,"y":1.68},{"x":820,"y":1.6},{"x":-980,"y":1.58},{"x":-180,"y":1.57},{"x":75,"y":1.6},{"x":1530,"y":1.51},{"x":1130,"y":1.48},{"x":-300,"y":1.49},{"x":360,"y":1.49},{"x":220,"y":1.46},{"x":930,"y":1.38},{"x":760,"y":1.42},{"x":560,"y":1.38},{"x":1160,"y":1.34},{"x":-670,"y":1.38},{"x":-810,"y":1.49},{"x":45,"y":1.38},{"x":-125,"y":1.34},{"x":630,"y":1.29},{"x":410,"y":1.31},{"x":-810,"y":1.19},{"x":-380,"y":1.19},{"x":-210,"y":1.15},{"x":20,"y":1.15},{"x":300,"y":1.15},{"x":-750,"y":1.04},{"x":-470,"y":1},{"x":-640,"y":0.97},{"x":-210,"y":0.97},{"x":300,"y":1},{"x":450,"y":0.94},{"x":940,"y":0.94},{"x":1080,"y":0.85},{"x":-790,"y":0.82},{"x":-440,"y":0.85},{"x":-40,"y":0.85},{"x":300,"y":0.82},{"x":-640,"y":0.67},{"x":-410,"y":0.67},{"x":75,"y":0.68},{"x":175,"y":0.66},{"x":-180,"y":0.6},{"x":-790,"y":0.34},{"x":-670,"y":0.21},{"x":-140,"y":0.32},{"x":-110,"y":0.4},{"x":-720,"y":1.1},{"x":-700,"y":0.85},{"x":-620,"y":1.2},{"x":-600,"y":0.8},{"x":-560,"y":0.7},{"x":-500,"y":0.75},{"x":-440,"y":1.1},{"x":-340,"y":1.3},{"x":-290,"y":1.05},{"x":-250,"y":0.85},{"x":-200,"y":1.25},{"x":-150,"y":1.45},{"x":-100,"y":1.1},{"x":-60,"y":0.95},{"x":-30,"y":1.25},{"x":60,"y":0.95},{"x":100,"y":1.2},{"x":130,"y":1.5},{"x":170,"y":1.1},{"x":250,"y":1.3},{"x":240,"y":1.75},{"x":300,"y":1.55},{"x":330,"y":1.9},{"x":380,"y":1.7},{"x":420,"y":1.55},{"x":480,"y":1.8},{"x":520,"y":1.65},{"x":580,"y":1.75},{"x":620,"y":1.55},{"x":650,"y":1.8},{"x":700,"y":1.7},{"x":750,"y":2},{"x":800,"y":1.55},{"x":850,"y":1.75},{"x":900,"y":1.85},{"x":1000,"y":1.6},{"x":1100,"y":1.65},{"x":-40,"y":2.1},{"x":40,"y":1.95},{"x":100,"y":2.15},{"x":280,"y":2.2},{"x":350,"y":2.3},{"x":-200,"y":2.15},{"x":-320,"y":2.2},{"x":1250,"y":2.8},{"x":1400,"y":2.7},{"x":1500,"y":2.6},{"x":1700,"y":2.75},{"x":1900,"y":2.7},{"x":1750,"y":3.1},{"x":1500,"y":3},{"x":1300,"y":2.95}],
"hapln3":[{"x":-1450,"y":1.93},{"x":-1050,"y":0.85},{"x":-810,"y":0.53},{"x":-600,"y":0.42},{"x":-380,"y":0.67},{"x":-180,"y":0.7},{"x":-150,"y":0.88},{"x":-130,"y":0.99},{"x":260,"y":1},{"x":840,"y":1},{"x":1330,"y":1.14},{"x":-790,"y":1.08},{"x":-800,"y":1.3},{"x":-560,"y":1.18},{"x":-400,"y":1.3},{"x":-360,"y":1.41},{"x":-650,"y":1.36},{"x":-530,"y":1.36},{"x":-110,"y":1.33},{"x":-140,"y":1.2},{"x":-60,"y":1.23},{"x":130,"y":1.26},{"x":190,"y":1.15},{"x":340,"y":1.19},{"x":290,"y":1.41},{"x":380,"y":1.36},{"x":500,"y":1.26},{"x":910,"y":1.22},{"x":930,"y":1.34},{"x":630,"y":1.45},{"x":740,"y":1.55},{"x":1390,"y":1.62},{"x":1600,"y":1.59},{"x":1010,"y":1.68},{"x":-770,"y":1.62},{"x":-490,"y":1.73},{"x":-330,"y":1.68},{"x":-170,"y":1.6},{"x":0,"y":1.57},{"x":115,"y":1.51},{"x":200,"y":1.63},{"x":340,"y":1.68},{"x":490,"y":1.6},{"x":675,"y":1.65},{"x":1770,"y":1.85},{"x":-860,"y":1.78},{"x":-710,"y":1.79},{"x":-470,"y":1.83},{"x":-200,"y":1.82},{"x":-60,"y":1.73},{"x":60,"y":1.76},{"x":340,"y":1.76},{"x":490,"y":1.83},{"x":1260,"y":1.9},{"x":1570,"y":1.95},{"x":710,"y":1.92},{"x":-170,"y":1.97},{"x":115,"y":1.97},{"x":310,"y":1.94},{"x":540,"y":2},{"x":-770,"y":2.11},{"x":-630,"y":2.1},{"x":-110,"y":2.06},{"x":260,"y":2.1},{"x":910,"y":2.03},{"x":1090,"y":2.03},{"x":1260,"y":2.14},{"x":2090,"y":2.19},{"x":1890,"y":2.28},{"x":1490,"y":2.25},{"x":1200,"y":2.37},{"x":-1000,"y":2.24},{"x":-930,"y":2.28},{"x":-290,"y":2.19},{"x":85,"y":2.16},{"x":115,"y":2.27},{"x":260,"y":2.27},{"x":800,"y":2.22},{"x":1020,"y":2.16},{"x":-430,"y":2.34},{"x":-260,"y":2.34},{"x":290,"y":2.4},{"x":540,"y":2.46},{"x":690,"y":2.37},{"x":830,"y":2.4},{"x":940,"y":2.46},{"x":1600,"y":2.42},{"x":1700,"y":2.46},{"x":-710,"y":2.48},{"x":-310,"y":2.5},{"x":-170,"y":2.56},{"x":60,"y":2.5},{"x":340,"y":2.59},{"x":690,"y":2.52},{"x":1090,"y":2.59},{"x":1510,"y":2.53},{"x":-630,"y":2.58},{"x":-440,"y":2.59},{"x":-710,"y":2.62},{"x":30,"y":2.65},{"x":230,"y":2.62},{"x":460,"y":2.62},{"x":860,"y":2.65},{"x":1260,"y":2.68},{"x":1630,"y":2.66},{"x":2100,"y":2.66},{"x":-700,"y":2.73},{"x":-370,"y":2.74},{"x":-140,"y":2.72},{"x":570,"y":2.77},{"x":950,"y":2.77},{"x":1200,"y":2.77},{"x":1430,"y":2.74},{"x":1900,"y":2.73},{"x":2470,"y":2.74},{"x":2660,"y":2.82},{"x":2170,"y":2.83},{"x":-310,"y":2.79},{"x":310,"y":2.88},{"x":170,"y":2.91},{"x":-30,"y":2.93},{"x":1710,"y":2.87},{"x":1030,"y":2.88},{"x":1370,"y":2.93},{"x":1900,"y":2.96},{"x":-980,"y":2.99},{"x":-660,"y":3},{"x":-250,"y":3.02},{"x":490,"y":3.02},{"x":770,"y":3.02},{"x":1290,"y":3.02},{"x":1660,"y":3.02},{"x":-600,"y":3.1},{"x":660,"y":3.14},{"x":140,"y":3.14},{"x":1090,"y":3.17},{"x":2290,"y":3.08},{"x":2110,"y":3.14},{"x":1890,"y":3.14},{"x":-170,"y":3.18},{"x":200,"y":3.22},{"x":890,"y":3.19},{"x":1600,"y":3.2},{"x":2570,"y":3.19},{"x":2370,"y":3.17},{"x":2900,"y":3.18},{"x":-740,"y":3.28},{"x":290,"y":3.33},{"x":2500,"y":3.34},{"x":2290,"y":3.38},{"x":1940,"y":3.33},{"x":-340,"y":3.33},{"x":490,"y":3.39},{"x":740,"y":3.39},{"x":0,"y":3.42},{"x":1110,"y":3.38},{"x":1370,"y":3.42},{"x":1710,"y":3.39},{"x":230,"y":3.45},{"x":-290,"y":3.5},{"x":3260,"y":3.5},{"x":2870,"y":3.53},{"x":2110,"y":3.51},{"x":910,"y":3.51},{"x":1660,"y":3.51},{"x":1310,"y":3.52},{"x":0,"y":3.54},{"x":2430,"y":3.58},{"x":430,"y":3.57},{"x":600,"y":3.57},{"x":1030,"y":3.57},{"x":2030,"y":3.62},{"x":2730,"y":3.63},{"x":870,"y":3.63},{"x":3300,"y":3.71},{"x":1230,"y":3.7},{"x":1400,"y":3.71},{"x":-770,"y":3.77},{"x":-680,"y":3.79},{"x":-630,"y":3.74},{"x":-300,"y":3.75},{"x":170,"y":3.78},{"x":2570,"y":3.73},{"x":-470,"y":3.81},{"x":1970,"y":3.76},{"x":2310,"y":3.7},{"x":1440,"y":3.82},{"x":-220,"y":3.87},{"x":470,"y":3.89},{"x":1140,"y":3.89},{"x":1830,"y":3.87},{"x":2110,"y":3.85},{"x":2940,"y":3.85},{"x":-430,"y":3.93},{"x":170,"y":3.95},{"x":260,"y":3.94},{"x":1570,"y":3.91},{"x":2230,"y":3.93},{"x":3090,"y":3.91},{"x":3200,"y":3.97},{"x":1430,"y":4},{"x":2110,"y":4.03},{"x":2800,"y":4.08},{"x":2570,"y":4},{"x":570,"y":4.08},{"x":660,"y":4.03},{"x":1290,"y":4.11},{"x":1570,"y":4.05},{"x":1770,"y":4.06},{"x":1910,"y":4.08},{"x":2030,"y":4.1},{"x":2490,"y":4.11},{"x":800,"y":4.13},{"x":2370,"y":4.21},{"x":740,"y":4.24},{"x":870,"y":4.27},{"x":-370,"y":4.26},{"x":460,"y":4.26},{"x":1660,"y":4.25},{"x":1770,"y":4.24},{"x":-790,"y":4.34},{"x":-160,"y":4.37},{"x":550,"y":4.4},{"x":1670,"y":4.39},{"x":2400,"y":4.39},{"x":2890,"y":4.39},{"x":3000,"y":4.37},{"x":2670,"y":4.4},{"x":2000,"y":4.43},{"x":3200,"y":4.46},{"x":2180,"y":4.47},{"x":940,"y":4.48},{"x":1090,"y":4.51},{"x":1260,"y":4.56},{"x":180,"y":4.52},{"x":-160,"y":4.59},{"x":2010,"y":4.6},{"x":3350,"y":4.58},{"x":2770,"y":4.65},{"x":2840,"y":4.67},{"x":3760,"y":4.69},{"x":2570,"y":4.74},{"x":1830,"y":4.76},{"x":2510,"y":4.88},{"x":3570,"y":4.88},{"x":-330,"y":4.83},{"x":1740,"y":4.94},{"x":1870,"y":4.94},{"x":3350,"y":4.94},{"x":2950,"y":5.07},{"x":3200,"y":5.06},{"x":1950,"y":5.15},{"x":3100,"y":5.22},{"x":2350,"y":5.27},{"x":2300,"y":5.37},{"x":3390,"y":5.4},{"x":1610,"y":5.5},{"x":3460,"y":5.57},{"x":800,"y":2.6},{"x":900,"y":2.7},{"x":1000,"y":2.65},{"x":1100,"y":2.75},{"x":1150,"y":2.5},{"x":1200,"y":2.85},{"x":1280,"y":2.6},{"x":1350,"y":2.75},{"x":1400,"y":2.6},{"x":1480,"y":2.85},{"x":1520,"y":2.65},{"x":1000,"y":2.95},{"x":900,"y":3},{"x":1150,"y":3},{"x":1300,"y":3.1},{"x":1450,"y":3.2},{"x":600,"y":2.4},{"x":700,"y":2.7},{"x":400,"y":2.4},{"x":200,"y":1.85},{"x":100,"y":1.8},{"x":-50,"y":1.9},{"x":-100,"y":1.7},{"x":-150,"y":1.75},{"x":150,"y":1.65}],
"wipf1":[{"x":-1450,"y":3.23},{"x":-1050,"y":0.73},{"x":-920,"y":1.03},{"x":-890,"y":0.89},{"x":-780,"y":0.87},{"x":-460,"y":0.73},{"x":-420,"y":0.72},{"x":-450,"y":0.95},{"x":-820,"y":1.74},{"x":-780,"y":1.57},{"x":-700,"y":1.42},{"x":-650,"y":1.28},{"x":-580,"y":1.22},{"x":-400,"y":1.25},{"x":-320,"y":1.27},{"x":-260,"y":1.17},{"x":-330,"y":1.65},{"x":-170,"y":1.86},{"x":-280,"y":1.99},{"x":-420,"y":2.06},{"x":-680,"y":1.97},{"x":-610,"y":1.99},{"x":-820,"y":2.33},{"x":-750,"y":2.29},{"x":-650,"y":2.33},{"x":-580,"y":2.34},{"x":-380,"y":2.34},{"x":-250,"y":2.27},{"x":-610,"y":2.53},{"x":-610,"y":2.66},{"x":-480,"y":2.88},{"x":-380,"y":2.75},{"x":-250,"y":2.58},{"x":-160,"y":2.43},{"x":-50,"y":2.31},{"x":40,"y":2.31},{"x":130,"y":2.37},{"x":-70,"y":2.06},{"x":40,"y":2.03},{"x":130,"y":1.99},{"x":200,"y":2.1},{"x":70,"y":1.72},{"x":210,"y":1.74},{"x":330,"y":1.81},{"x":410,"y":1.91},{"x":340,"y":2.18},{"x":500,"y":2.24},{"x":730,"y":2.23},{"x":930,"y":2.24},{"x":890,"y":2.08},{"x":1070,"y":2.13},{"x":1260,"y":2.01},{"x":1430,"y":2.22},{"x":500,"y":2.43},{"x":360,"y":2.45},{"x":1360,"y":2.4},{"x":1420,"y":2.49},{"x":200,"y":1.11},{"x":200,"y":1.34},{"x":140,"y":1.59},{"x":270,"y":1.52},{"x":155,"y":1.48},{"x":-50,"y":1.51},{"x":500,"y":1.49},{"x":600,"y":1.6},{"x":630,"y":1.38},{"x":670,"y":1.19},{"x":730,"y":0.91},{"x":950,"y":1.2},{"x":560,"y":1.87},{"x":670,"y":1.81},{"x":1070,"y":1.65},{"x":1530,"y":1.65},{"x":1610,"y":1.42},{"x":-990,"y":2.69},{"x":-990,"y":2.96},{"x":-840,"y":3.07},{"x":-710,"y":3.17},{"x":-720,"y":2.99},{"x":-750,"y":2.73},{"x":-490,"y":3.25},{"x":-670,"y":3.57},{"x":-790,"y":3.84},{"x":-790,"y":3.78},{"x":-450,"y":3.76},{"x":-360,"y":3.9},{"x":-300,"y":3.65},{"x":-150,"y":3.57},{"x":-250,"y":3.78},{"x":-190,"y":3.94},{"x":-160,"y":4},{"x":10,"y":4.07},{"x":70,"y":3.97},{"x":40,"y":3.84},{"x":-50,"y":3.66},{"x":100,"y":3.78},{"x":180,"y":3.81},{"x":300,"y":3.74},{"x":210,"y":3.55},{"x":130,"y":3.46},{"x":-50,"y":3.41},{"x":300,"y":3.3},{"x":470,"y":3.37},{"x":500,"y":3.65},{"x":410,"y":3.71},{"x":500,"y":3.9},{"x":360,"y":4},{"x":210,"y":4.11},{"x":130,"y":4.24},{"x":-70,"y":4.22},{"x":-130,"y":4.38},{"x":-220,"y":4.47},{"x":-340,"y":4.47},{"x":-370,"y":4.34},{"x":-570,"y":4.35},{"x":-530,"y":4.32},{"x":-630,"y":4.57},{"x":-290,"y":4.68},{"x":-10,"y":4.57},{"x":190,"y":4.65},{"x":100,"y":4.75},{"x":-70,"y":4.79},{"x":-50,"y":4.89},{"x":-220,"y":4.96},{"x":-400,"y":4.89},{"x":-360,"y":4.97},{"x":-470,"y":5.09},{"x":-220,"y":5.18},{"x":-160,"y":5.28},{"x":10,"y":5.16},{"x":70,"y":5.35},{"x":-5,"y":5.5},{"x":-390,"y":5.5},{"x":70,"y":5.64},{"x":310,"y":5.32},{"x":340,"y":5.22},{"x":370,"y":5.09},{"x":540,"y":4.99},{"x":540,"y":5.4},{"x":760,"y":5.45},{"x":890,"y":5.44},{"x":930,"y":5.23},{"x":760,"y":5.15},{"x":760,"y":5.09},{"x":450,"y":6.01},{"x":590,"y":6.04},{"x":1200,"y":6.06},{"x":650,"y":5.69},{"x":1130,"y":5.41},{"x":1130,"y":5.31},{"x":470,"y":4.77},{"x":410,"y":4.62},{"x":560,"y":4.58},{"x":360,"y":4.61},{"x":470,"y":4.45},{"x":530,"y":4.32},{"x":385,"y":4.19},{"x":700,"y":4.26},{"x":790,"y":4.13},{"x":850,"y":4.06},{"x":690,"y":3.94},{"x":560,"y":4},{"x":240,"y":4.1},{"x":900,"y":4.83},{"x":1010,"y":4.89},{"x":900,"y":4.72},{"x":1000,"y":4.62},{"x":1160,"y":4.93},{"x":1300,"y":5.02},{"x":1200,"y":4.7},{"x":1330,"y":4.61},{"x":1040,"y":4.45},{"x":1100,"y":4.29},{"x":1270,"y":4.38},{"x":1420,"y":4.48},{"x":1160,"y":4.35},{"x":1390,"y":4.22},{"x":1040,"y":4.15},{"x":1470,"y":4.23},{"x":1580,"y":4.67},{"x":1560,"y":4.51},{"x":1510,"y":4.85},{"x":1600,"y":4.96},{"x":1400,"y":5.17},{"x":1590,"y":5.13},{"x":1730,"y":5.09},{"x":1730,"y":5.31},{"x":1790,"y":5.5},{"x":1420,"y":5.5},{"x":1650,"y":5.58},{"x":1570,"y":5.68},{"x":1870,"y":5.71},{"x":1630,"y":5.87},{"x":1730,"y":5.9},{"x":1990,"y":5.15},{"x":1960,"y":5.44},{"x":2180,"y":5.47},{"x":1930,"y":4.86},{"x":2100,"y":4.83},{"x":2270,"y":4.81},{"x":1900,"y":4.7},{"x":2010,"y":4.67},{"x":1850,"y":4.53},{"x":2130,"y":4.58},{"x":1650,"y":4.41},{"x":1760,"y":4.32},{"x":1990,"y":4.45},{"x":2280,"y":4.45},{"x":2190,"y":4.27},{"x":2420,"y":4.32},{"x":2540,"y":4.38},{"x":2390,"y":4.21},{"x":2820,"y":4.36},{"x":3050,"y":4.38},{"x":3250,"y":4.41},{"x":2780,"y":4.13},{"x":2560,"y":4.1},{"x":2480,"y":4},{"x":2710,"y":3.92},{"x":2540,"y":3.81},{"x":2420,"y":3.71},{"x":2340,"y":3.9},{"x":2100,"y":4.13},{"x":2130,"y":4},{"x":1880,"y":3.97},{"x":1730,"y":4.03},{"x":2130,"y":3.78},{"x":1990,"y":3.81},{"x":2220,"y":3.68},{"x":1560,"y":3.81},{"x":1620,"y":3.71},{"x":1420,"y":3.71},{"x":1160,"y":3.71},{"x":1040,"y":3.81},{"x":870,"y":3.74},{"x":2160,"y":3.53},{"x":1930,"y":3.55},{"x":1760,"y":3.46},{"x":1640,"y":3.52},{"x":1450,"y":3.58},{"x":1220,"y":3.55},{"x":960,"y":3.46},{"x":670,"y":3.52},{"x":870,"y":3.39},{"x":1070,"y":3.33},{"x":1270,"y":3.3},{"x":1450,"y":3.33},{"x":1560,"y":3.27},{"x":1900,"y":3.14},{"x":1960,"y":3.27},{"x":2130,"y":3.25},{"x":810,"y":3.14},{"x":640,"y":3.19},{"x":1330,"y":3.11},{"x":1620,"y":3.11},{"x":1700,"y":3.03},{"x":1450,"y":3.01},{"x":330,"y":3.07},{"x":410,"y":3.04},{"x":10,"y":3.07},{"x":-190,"y":3.04},{"x":385,"y":2.85},{"x":730,"y":2.91},{"x":990,"y":2.83},{"x":1300,"y":2.85},{"x":1390,"y":2.79},{"x":-100,"y":2.82},{"x":130,"y":2.85},{"x":70,"y":2.66},{"x":210,"y":2.63},{"x":690,"y":2.72},{"x":850,"y":2.56},{"x":1110,"y":2.66},{"x":1240,"y":2.69},{"x":1670,"y":2.63},{"x":1880,"y":2.56},{"x":1950,"y":2.64},{"x":730,"y":2.63},{"x":900,"y":2.47},{"x":3750,"y":5.72},{"x":3430,"y":5.58},{"x":3580,"y":5.57},{"x":3190,"y":5.53},{"x":3280,"y":5.53},{"x":2990,"y":5.9},{"x":2940,"y":5.63},{"x":2850,"y":5.51},{"x":3020,"y":5.47},{"x":2420,"y":5.53},{"x":2380,"y":5.94},{"x":2450,"y":5.92},{"x":2300,"y":5.77},{"x":2480,"y":5.77},{"x":2650,"y":5.34},{"x":2450,"y":5.26},{"x":2570,"y":5.18},{"x":2730,"y":5.18},{"x":3110,"y":5.37},{"x":3340,"y":5.44},{"x":2910,"y":5.28},{"x":3190,"y":5.15},{"x":3400,"y":5.21},{"x":2480,"y":4.93},{"x":2850,"y":5},{"x":2970,"y":4.99},{"x":3110,"y":4.99},{"x":2620,"y":4.8},{"x":2750,"y":4.85},{"x":2890,"y":4.68},{"x":2410,"y":4.66},{"x":2680,"y":4.59}],
"clic2":[{"x":-1440,"y":0.56},{"x":-980,"y":0.28},{"x":-1050,"y":0.96},{"x":-1000,"y":2.44},{"x":-830,"y":3.11},{"x":-730,"y":3.32},{"x":-750,"y":2.35},{"x":-460,"y":3.18},{"x":-350,"y":3.02},{"x":-370,"y":2.63},{"x":-60,"y":2.7},{"x":-200,"y":2.34},{"x":70,"y":2.46},{"x":500,"y":2.86},{"x":-10,"y":3.86},{"x":125,"y":4.28},{"x":200,"y":3.78},{"x":255,"y":3.74},{"x":315,"y":3.61},{"x":180,"y":3.53},{"x":410,"y":3.36},{"x":500,"y":3.45},{"x":600,"y":3.4},{"x":670,"y":3.31},{"x":655,"y":3.56},{"x":655,"y":3.71},{"x":740,"y":3.69},{"x":590,"y":4.03},{"x":725,"y":4.13},{"x":960,"y":3.99},{"x":830,"y":3.29},{"x":830,"y":2.97},{"x":900,"y":2.98},{"x":1110,"y":4.89},{"x":1130,"y":4.54},{"x":1205,"y":4.47},{"x":1400,"y":4.54},{"x":1590,"y":4.46},{"x":1560,"y":4.2},{"x":1715,"y":4.13},{"x":1770,"y":5.39},{"x":1970,"y":5.12},{"x":2075,"y":4.84},{"x":2220,"y":4.96},{"x":2900,"y":4.71},{"x":3760,"y":4.6},{"x":3560,"y":4.37},{"x":3600,"y":4.17},{"x":3050,"y":4.19},{"x":2930,"y":4.11},{"x":2750,"y":4.03},{"x":2620,"y":4.14},{"x":2500,"y":4.26},{"x":2350,"y":4.2},{"x":2470,"y":4},{"x":2630,"y":3.86},{"x":1900,"y":3.99},{"x":1970,"y":3.81},{"x":2090,"y":3.79},{"x":1630,"y":3.83},{"x":1700,"y":3.82},{"x":1245,"y":3.84},{"x":3360,"y":3.92},{"x":3205,"y":3.74},{"x":3430,"y":3.76},{"x":2860,"y":3.68},{"x":2725,"y":3.61},{"x":3180,"y":3.64},{"x":3340,"y":3.62},{"x":1990,"y":3.6},{"x":1460,"y":3.56},{"x":1230,"y":3.55},{"x":1715,"y":3.5},{"x":2670,"y":3.45},{"x":1870,"y":3.4},{"x":2940,"y":3.37},{"x":3030,"y":3.36},{"x":3340,"y":3.45},{"x":1170,"y":3.26},{"x":3390,"y":3.26},{"x":1885,"y":3.26},{"x":2020,"y":3.18},{"x":1925,"y":3.13},{"x":2430,"y":3.23},{"x":2115,"y":3.09},{"x":2180,"y":3.07},{"x":2670,"y":3.12},{"x":2400,"y":3.06},{"x":2940,"y":3.12},{"x":3190,"y":3.12},{"x":2430,"y":2.99},{"x":2570,"y":2.99},{"x":1725,"y":2.95},{"x":3030,"y":2.99},{"x":3085,"y":2.96},{"x":2190,"y":2.87},{"x":1055,"y":2.77},{"x":1780,"y":2.75},{"x":2570,"y":2.8},{"x":2715,"y":2.82},{"x":2940,"y":2.78},{"x":3115,"y":2.78},{"x":3170,"y":2.78},{"x":1325,"y":2.66},{"x":1600,"y":2.68},{"x":2260,"y":2.71},{"x":1870,"y":2.7},{"x":960,"y":2.6},{"x":1085,"y":2.58},{"x":2860,"y":2.63},{"x":1430,"y":2.53},{"x":1715,"y":2.56},{"x":2685,"y":2.53},{"x":2570,"y":2.61},{"x":1170,"y":2.52},{"x":2340,"y":2.58},{"x":2485,"y":2.49},{"x":900,"y":2.41},{"x":2885,"y":2.4},{"x":2260,"y":2.41},{"x":2000,"y":2.39},{"x":1060,"y":2.35},{"x":1230,"y":2.32},{"x":1770,"y":2.43},{"x":1370,"y":2.38},{"x":2370,"y":2.27},{"x":2430,"y":2.22},{"x":1570,"y":2.27},{"x":1460,"y":2.2},{"x":1940,"y":2.24},{"x":2145,"y":2.27},{"x":360,"y":2.19},{"x":400,"y":2.11},{"x":900,"y":2.17},{"x":0,"y":2.11},{"x":200,"y":2.07},{"x":-200,"y":2.07},{"x":600,"y":2.1},{"x":800,"y":2.1},{"x":970,"y":2.12},{"x":1830,"y":2.04},{"x":2055,"y":2.11},{"x":1655,"y":2.1},{"x":2455,"y":1.98},{"x":485,"y":2},{"x":30,"y":2},{"x":685,"y":1.97},{"x":1085,"y":2.02},{"x":885,"y":1.98},{"x":1370,"y":1.89},{"x":1745,"y":1.86},{"x":1970,"y":1.87},{"x":2170,"y":1.92},{"x":2270,"y":1.83},{"x":-780,"y":1.77},{"x":-360,"y":1.75},{"x":530,"y":1.79},{"x":1200,"y":1.79},{"x":1515,"y":1.8},{"x":2115,"y":1.76},{"x":-600,"y":1.67},{"x":-170,"y":1.76},{"x":-85,"y":1.72},{"x":715,"y":1.76},{"x":970,"y":1.7},{"x":1285,"y":1.7},{"x":1655,"y":1.7},{"x":1860,"y":1.67},{"x":-610,"y":1.57},{"x":-200,"y":1.64},{"x":85,"y":1.61},{"x":170,"y":1.64},{"x":485,"y":1.64},{"x":1000,"y":1.61},{"x":1145,"y":1.64},{"x":1345,"y":1.61},{"x":2170,"y":1.61},{"x":1860,"y":1.57},{"x":85,"y":1.54},{"x":745,"y":1.51},{"x":830,"y":1.48},{"x":1000,"y":1.51},{"x":1200,"y":1.48},{"x":1400,"y":1.45},{"x":2430,"y":1.5},{"x":2525,"y":1.47},{"x":-200,"y":1.42},{"x":230,"y":1.45},{"x":485,"y":1.39},{"x":1540,"y":1.32},{"x":1715,"y":1.32},{"x":1915,"y":1.39},{"x":-300,"y":1.34},{"x":-85,"y":1.34},{"x":370,"y":1.29},{"x":660,"y":1.29},{"x":1030,"y":1.3},{"x":1230,"y":1.32},{"x":1370,"y":1.29},{"x":2100,"y":1.32},{"x":2590,"y":1.27},{"x":2790,"y":1.32},{"x":3245,"y":1.32},{"x":115,"y":1.2},{"x":315,"y":1.2},{"x":655,"y":1.2},{"x":945,"y":1.17},{"x":1145,"y":1.13},{"x":1400,"y":1.2},{"x":1915,"y":1.13},{"x":-400,"y":1.17},{"x":-200,"y":1.13},{"x":-630,"y":1.04},{"x":145,"y":1.09},{"x":430,"y":1.13},{"x":945,"y":0.98},{"x":1285,"y":1.04},{"x":1460,"y":1.04},{"x":1685,"y":1.01},{"x":2830,"y":1.04},{"x":-770,"y":0.91},{"x":-430,"y":0.94},{"x":-170,"y":0.94},{"x":145,"y":0.94},{"x":345,"y":0.94},{"x":570,"y":0.94},{"x":1630,"y":0.91},{"x":2145,"y":0.91},{"x":1285,"y":0.84},{"x":-600,"y":0.79},{"x":-910,"y":0.72},{"x":-145,"y":0.79},{"x":200,"y":0.79},{"x":485,"y":0.82},{"x":715,"y":0.82},{"x":830,"y":0.76},{"x":1030,"y":0.77},{"x":1545,"y":0.76},{"x":-430,"y":0.66},{"x":-85,"y":0.69},{"x":370,"y":0.66},{"x":685,"y":0.66},{"x":1600,"y":0.64},{"x":1955,"y":0.63},{"x":2430,"y":0.59},{"x":-800,"y":0.57},{"x":-600,"y":0.44},{"x":-255,"y":0.57},{"x":30,"y":0.54},{"x":485,"y":0.54},{"x":950,"y":0.54},{"x":1085,"y":0.54},{"x":1430,"y":0.55},{"x":1430,"y":0.49},{"x":715,"y":0.44},{"x":950,"y":0.47},{"x":-770,"y":0.41},{"x":-400,"y":0.44},{"x":-85,"y":0.41},{"x":-740,"y":0.28},{"x":-485,"y":0.25},{"x":-315,"y":0.28},{"x":-30,"y":0.31},{"x":255,"y":0.31},{"x":685,"y":0.28},{"x":1030,"y":0.33},{"x":1145,"y":0.31},{"x":-800,"y":0.16},{"x":-655,"y":0.13},{"x":-230,"y":0.19},{"x":-115,"y":0.13},{"x":0,"y":0.19},{"x":200,"y":0.2},{"x":915,"y":0.16},{"x":-720,"y":0.5},{"x":-680,"y":0.3},{"x":-660,"y":0.7},{"x":-570,"y":0.5},{"x":-540,"y":0.2},{"x":-500,"y":0.6},{"x":-470,"y":0.4},{"x":-420,"y":0.2},{"x":-380,"y":0.75},{"x":-350,"y":0.35},{"x":-300,"y":0.55},{"x":-280,"y":0.15},{"x":-240,"y":0.4},{"x":-200,"y":0.7},{"x":-170,"y":0.25},{"x":-140,"y":0.55},{"x":-100,"y":0.85},{"x":-70,"y":0.15},{"x":-50,"y":0.5},{"x":-20,"y":0.7},{"x":30,"y":0.3},{"x":60,"y":0.15},{"x":60,"y":0.9},{"x":100,"y":0.55},{"x":130,"y":0.3},{"x":150,"y":0.75},{"x":180,"y":1.05},{"x":230,"y":0.6},{"x":250,"y":0.85},{"x":300,"y":0.5},{"x":320,"y":1},{"x":400,"y":0.75},{"x":430,"y":1.1},{"x":450,"y":0.6},{"x":520,"y":0.95},{"x":580,"y":0.7},{"x":620,"y":0.85},{"x":650,"y":1},{"x":700,"y":0.75},{"x":760,"y":1.4},{"x":800,"y":0.95},{"x":850,"y":1.25},{"x":1130,"y":1.35},{"x":1200,"y":1.15},{"x":1300,"y":1.4},{"x":1350,"y":1.5},{"x":1500,"y":1.45},{"x":1600,"y":1.5}]},
"columns":6,"spacing":2,"align":"each","bounds":"flush",
"resolve":{"scale":{"color":"independent"},"legend":{"color":"independent"}},
"concat":[
{"data":{"name":"none"},"mark":"rect","width":429,"height":72,"title":{"text":"A","fontSize":40,"fontWeight":"bold","dy":26.5}},
{"data":{"name":"none"},"mark":"rect","width":160,"height":72},
{"data":{"name":"none"},"mark":"rect","width":335,"height":72,"title":{"text":"B","fontSize":40,"fontWeight":"bold","dx":-111,"dy":26.5}},
{"data":{"name":"none"},"mark":"rect","width":128,"height":72,"title":{"text":"C","fontSize":40,"fontWeight":"bold","dx":60,"dy":26.5}},
{"data":{"name":"top"},"width":336,"height":72,"title":{"text":"Cancer: SKCM","dx":19,"dy":52.4},"mark":{"type":"area","color":"#FFA500","opacity":1,"interpolate":"monotone","line":{"color":"black","strokeWidth":2}},"encoding":{"x":{"field":"x","type":"quantitative","scale":{"domain":[-1714,4000],"range":[20,353]},"axis":null},"y":{"field":"d","type":"quantitative","scale":{"domain":[0,1],"range":[111,54]},"axis":null}}},
{"data":{"name":"none"},"mark":"rect","width":64,"height":72},

{"width":429,"height":348,"encoding":{"x":{"field":"c","type":"quantitative","scale":{"domain":[0.404,2.596],"range":[97,487]},"axis":{"values":[1,2],"offset":-55,"labelExpr":"datum.value==1?'Low risk':'High risk'","labelFontSize":23.5,"labelColor":"black","labelOffset":20,"labelPadding":2,"domain":true,"domainColor":"black","domainWidth":3,"tickColor":"black","title":"Subtype","titleX":312,"titleY":38,"titleBaseline":"middle"}},"y":{"field":"y","type":"quantitative","scale":{"domain":[-2500,5000],"range":[293,0]},"axis":{"values":[-2500,0,2500,5000],"offset":-97,"format":"d","labelFontSize":23.5,"labelColor":"black","labelPadding":0,"domain":true,"domainColor":"black","domainWidth":3,"tickColor":"black","title":"ImmuneScore","titleX":-44,"titleY":113}}},
"layer":[{"data":{"name":"violinA"},"mark":{"type":"area","orient":"horizontal","stroke":"black","strokeWidth":2.5,"opacity":1,"interpolate":"catmull-rom"},"encoding":{"x":{"field":"l","type":"quantitative"},"x2":{"field":"r"},"color":{"field":"group","type":"nominal","scale":{"domain":["Low risk","High risk"],"range":["#0000FF","#FF0000"]},"legend":{"orient":"none","legendX":107,"legendY":-42,"direction":"horizontal","title":"Subtype","titleOrient":"left","titleFontSize":23.5,"titleFontWeight":"normal","titleColor":"black","labelFontSize":23.5,"labelColor":"black","symbolType":"square","symbolSize":380,"symbolStrokeColor":"black","symbolStrokeWidth":2.5,"symbolOpacity":1,"columns":2,"columnPadding":4,"labelOffset":4,"titlePadding":4}}}},
{"data":{"name":"boxA"},"mark":{"type":"rule","color":"black","strokeWidth":2.5},"encoding":{"y":{"field":"lo","type":"quantitative"},"y2":{"field":"hi"}}},
{"data":{"name":"boxA"},"mark":{"type":"rect","fill":"white","stroke":"black","strokeWidth":2.5},"encoding":{"x":{"field":"l","type":"quantitative"},"x2":{"field":"r"},"y":{"field":"q1","type":"quantitative"},"y2":{"field":"q3"}}},
{"data":{"name":"boxA"},"mark":{"type":"rule","color":"black","strokeWidth":2.5},"encoding":{"x":{"field":"l","type":"quantitative"},"x2":{"field":"r"},"y":{"field":"med","type":"quantitative"}}},
{"data":{"values":[{"c":1,"e":2,"y":3975,"y2":3975},{"c":2,"e":2,"y":3975,"y2":3820}]},"mark":{"type":"rule","color":"black","strokeWidth":2.5},"encoding":{"x2":{"field":"e"},"y2":{"field":"y2"}}},
{"data":{"values":[{"c":1.54,"y":4043,"t":"***"}]},"mark":{"type":"text","fontSize":22,"baseline":"alphabetic"},"encoding":{"text":{"field":"t"}}}]},
{"data":{"name":"none"},"mark":"rect","width":160,"height":348},
{"width":335,"height":348,"encoding":{"x":{"field":"c","type":"quantitative","scale":{"domain":[0.408,2.592],"range":[8,399]},"axis":{"values":[1,2],"offset":-55,"labelExpr":"datum.value==1?'Low risk':'High risk'","labelFontSize":23.5,"labelColor":"black","labelOffset":20,"labelPadding":2,"domain":true,"domainColor":"black","domainWidth":3,"tickColor":"black","title":"Subtype","titleX":223,"titleY":39,"titleBaseline":"middle"}},"y":{"field":"y","type":"quantitative","scale":{"domain":[-1561,3579],"range":[293,0]},"axis":{"values":[-1000,0,1000,2000,3000],"offset":-8,"format":"d","labelFontSize":23.5,"labelColor":"black","labelPadding":0,"domain":true,"domainColor":"black","domainWidth":3,"tickColor":"black","title":"ImmuneScore","titleX":-68,"titleY":113}}},
"layer":[{"data":{"name":"violinB"},"mark":{"type":"area","orient":"horizontal","stroke":"black","strokeWidth":2.5,"opacity":1,"interpolate":"catmull-rom"},"encoding":{"x":{"field":"l","type":"quantitative"},"x2":{"field":"r"},"color":{"field":"group","type":"nominal","scale":{"domain":["Low risk","High risk"],"range":["#0000FF","#FF0000"]},"legend":{"orient":"none","legendX":21,"legendY":-42,"direction":"horizontal","title":"Subtype","titleOrient":"left","titleFontSize":23.5,"titleFontWeight":"normal","titleColor":"black","labelFontSize":23.5,"labelColor":"black","symbolType":"square","symbolSize":380,"symbolStrokeColor":"black","symbolStrokeWidth":2.5,"symbolOpacity":1,"columns":2,"columnPadding":4,"labelOffset":4,"titlePadding":4}}}},
{"data":{"name":"boxB"},"mark":{"type":"rule","color":"black","strokeWidth":2.5},"encoding":{"y":{"field":"lo","type":"quantitative"},"y2":{"field":"hi"}}},
{"data":{"name":"boxB"},"mark":{"type":"rect","fill":"white","stroke":"black","strokeWidth":2.5},"encoding":{"x":{"field":"l","type":"quantitative"},"x2":{"field":"r"},"y":{"field":"q1","type":"quantitative"},"y2":{"field":"q3"}}},
{"data":{"name":"boxB"},"mark":{"type":"rule","color":"black","strokeWidth":2.5},"encoding":{"x":{"field":"l","type":"quantitative"},"x2":{"field":"r"},"y":{"field":"med","type":"quantitative"}}},
{"data":{"values":[{"c":1,"e":2,"y":2855,"y2":2855},{"c":1,"e":1,"y":2855,"y2":2750}]},"mark":{"type":"rule","color":"black","strokeWidth":2.5},"encoding":{"x2":{"field":"e"},"y2":{"field":"y2"}}},
{"data":{"values":[{"c":1.537,"y":2896,"t":"***"}]},"mark":{"type":"text","fontSize":22,"baseline":"alphabetic"},"encoding":{"text":{"field":"t"}}}]},
{"data":{"name":"none"},"mark":"rect","width":128,"height":348},
{"width":336,"height":348,"encoding":{"x":{"field":"x","type":"quantitative","scale":{"domain":[-1714,4000],"range":[20,353]},"axis":{"offset":-3,"values":[-1000,0,1000,2000,3000,4000],"format":"d","labelOffset":{"condition":[{"test":"datum.value==0","value":3},{"test":"datum.value==-1000","value":17}],"value":14},"labelPadding":5,"labelColor":"#222222","title":"ImmuneScore","titleX":218,"titleY":44,"titleBaseline":"middle"}},"y":{"field":"y","type":"quantitative","scale":{"domain":[-0.34,8],"range":[345,39]},"axis":{"offset":-20,"values":[0,2,4,6,8],"format":"d","labelColor":"#222222","labelPadding":2,"title":"CYTL1","titleX":-23,"titleY":178}}},
"layer":[{"data":{"values":[{"x":-1500,"y":-0.34,"y2":8},{"x":-1000,"y":-0.34,"y2":8},{"x":-500,"y":-0.34,"y2":8},{"x":0,"y":-0.34,"y2":8},{"x":500,"y":-0.34,"y2":8},{"x":1000,"y":-0.34,"y2":8},{"x":1500,"y":-0.34,"y2":8},{"x":2000,"y":-0.34,"y2":8},{"x":2500,"y":-0.34,"y2":8},{"x":3000,"y":-0.34,"y2":8},{"x":3500,"y":-0.34,"y2":8}]},"mark":{"type":"rule","color":"#EBEBEB"},"encoding":{"y2":{"field":"y2"},"strokeWidth":{"condition":{"test":"datum.x%1000==0","value":2.5},"value":2}}},
{"data":{"values":[{"x":-1714,"x2":4000,"y":0},{"x":-1714,"x2":4000,"y":1},{"x":-1714,"x2":4000,"y":2},{"x":-1714,"x2":4000,"y":3},{"x":-1714,"x2":4000,"y":4},{"x":-1714,"x2":4000,"y":5},{"x":-1714,"x2":4000,"y":6},{"x":-1714,"x2":4000,"y":7}]},"mark":{"type":"rule","color":"#EBEBEB"},"encoding":{"x2":{"field":"x2"},"strokeWidth":{"condition":{"test":"datum.y%2==0","value":2.5},"value":2}}},
{"data":{"values":[{"x":-1714,"x2":4000,"y":-0.34,"y2":8}]},"mark":{"type":"rect","fillOpacity":0,"stroke":"#4D4D4D","strokeWidth":2},"encoding":{"x2":{"field":"x2"},"y2":{"field":"y2"}}},
{"data":{"name":"cytl1"},"mark":{"type":"circle","size":72,"color":"black","opacity":1}},
{"data":{"values":[{"x":-1480,"y":3.2,"hi":4.06},{"x":-500,"y":3.03,"hi":3.59},{"x":500,"y":2.815,"hi":3.135},{"x":1000,"y":2.67,"hi":2.95},{"x":1500,"y":2.48,"hi":2.8},{"x":2500,"y":2.03,"hi":2.59},{"x":3750,"y":1.42,"hi":2.38}]},"mark":{"type":"area","color":"#999999","opacity":0.4},"encoding":{"y2":{"field":"hi"}}},
{"data":{"values":[{"x":-1480,"y":3.63},{"x":3750,"y":1.9}]},"mark":{"type":"line","color":"#3366FF","strokeWidth":3}},
{"data":{"values":[{"x":-1446,"y":7.41,"t":"R"},{"x":-331,"y":7.41,"t":"p"}]},"mark":{"type":"text","align":"left","fontSize":13,"fontStyle":"italic"},"encoding":{"text":{"field":"t"}}},
{"data":{"values":[{"x":-1217,"y":7.41,"t":"= −0.17,"},{"x":-160,"y":7.41,"t":"= 0.00031"}]},"mark":{"type":"text","align":"left","fontSize":13},"encoding":{"text":{"field":"t"}}}]},
{"data":{"values":[{"y":7.65,"d":0.04},{"y":7,"d":0.12},{"y":6.5,"d":0.2},{"y":6,"d":0.33},{"y":5.5,"d":0.47},{"y":5,"d":0.6},{"y":4.5,"d":0.68},{"y":4,"d":0.73},{"y":3.6,"d":0.74},{"y":3.2,"d":0.7},{"y":2.8,"d":0.6},{"y":2.4,"d":0.58},{"y":2,"d":0.6},{"y":1.6,"d":0.65},{"y":1.2,"d":0.77},{"y":0.8,"d":0.92},{"y":0.5,"d":1},{"y":0.3,"d":0.96},{"y":0.1,"d":0.8},{"y":0,"d":0.68}]},"width":64,"height":348,"encoding":{"x":{"field":"d","type":"quantitative","scale":{"domain":[0,1],"range":[19,81]},"axis":null},"y":{"field":"y","type":"quantitative","scale":{"domain":[-0.34,8],"range":[345,39]},"axis":null}},"layer":[{"mark":{"type":"area","orient":"horizontal","color":"#0000FF","opacity":1,"interpolate":"catmull-rom"}},{"mark":{"type":"line","color":"black","strokeWidth":2,"interpolate":"catmull-rom"},"encoding":{"order":{"field":"y"}}}]},

{"data":{"name":"top"},"width":429,"height":177,"title":{"text":"Cancer: SKCM","dx":98,"dy":116.4},"mark":{"type":"area","color":"#FFA500","opacity":1,"interpolate":"monotone","line":{"color":"black","strokeWidth":2}},"encoding":{"x":{"field":"x","type":"quantitative","scale":{"domain":[-1714,4000],"range":[98,430]},"axis":null},"y":{"field":"d","type":"quantitative","scale":{"domain":[0,1],"range":[177,119]},"axis":null}}},
{"data":{"name":"none"},"mark":"rect","width":160,"height":177,"title":{"text":"D","fontSize":40,"fontWeight":"bold","dx":-429,"dy":82.5}},
{"data":{"name":"top"},"width":335,"height":177,"title":{"text":"Cancer: SKCM","dx":7,"dy":120.4},"mark":{"type":"area","color":"#FFA500","opacity":1,"interpolate":"monotone","line":{"color":"black","strokeWidth":2}},"encoding":{"x":{"field":"x","type":"quantitative","scale":{"domain":[-1714,4000],"range":[8,337]},"axis":null},"y":{"field":"d","type":"quantitative","scale":{"domain":[0,1],"range":[180,125]},"axis":null}}},
{"data":{"name":"none"},"mark":"rect","width":128,"height":177,"title":{"text":"E","fontSize":40,"fontWeight":"bold","dx":-448,"dy":69.5}},
{"data":{"name":"top"},"width":336,"height":177,"title":{"text":"Cancer: SKCM","dx":2,"dy":117.4},"mark":{"type":"area","color":"#FFA500","opacity":1,"interpolate":"monotone","line":{"color":"black","strokeWidth":2}},"encoding":{"x":{"field":"x","type":"quantitative","scale":{"domain":[-1714,4000],"range":[2,335]},"axis":null},"y":{"field":"d","type":"quantitative","scale":{"domain":[0,1],"range":[178,121]},"axis":null}}},
{"data":{"name":"none"},"mark":"rect","width":64,"height":177,"title":{"text":"F","fontSize":40,"fontWeight":"bold","dx":-402,"dy":69.5}},

{"width":429,"height":310,"encoding":{"x":{"field":"x","type":"quantitative","scale":{"domain":[-1714,4000],"range":[98,430]},"axis":{"offset":-5,"values":[-1000,0,1000,2000,3000,4000],"format":"d","labelOffset":{"condition":[{"test":"datum.value==0","value":3},{"test":"datum.value==-1000","value":17}],"value":14},"labelPadding":2,"title":"ImmuneScore","titleX":296,"titleY":34,"titleBaseline":"middle"}},"y":{"field":"y","type":"quantitative","scale":{"domain":[-0.735,6.05],"range":[305,0]},"axis":{"offset":-98,"values":[0,2,4,6],"format":"d","labelPadding":2,"title":"CCL8","titleX":-19,"titleY":140}}},
"layer":[{"data":{"values":[{"x":-1500,"y":-0.735,"y2":6.05},{"x":-1000,"y":-0.735,"y2":6.05},{"x":-500,"y":-0.735,"y2":6.05},{"x":0,"y":-0.735,"y2":6.05},{"x":500,"y":-0.735,"y2":6.05},{"x":1000,"y":-0.735,"y2":6.05},{"x":1500,"y":-0.735,"y2":6.05},{"x":2000,"y":-0.735,"y2":6.05},{"x":2500,"y":-0.735,"y2":6.05},{"x":3000,"y":-0.735,"y2":6.05},{"x":3500,"y":-0.735,"y2":6.05}]},"mark":{"type":"rule","color":"#EBEBEB"},"encoding":{"y2":{"field":"y2"},"strokeWidth":{"condition":{"test":"datum.x%1000==0","value":2.5},"value":2}}},
{"data":{"values":[{"x":-1714,"x2":4000,"y":0},{"x":-1714,"x2":4000,"y":1},{"x":-1714,"x2":4000,"y":2},{"x":-1714,"x2":4000,"y":3},{"x":-1714,"x2":4000,"y":4},{"x":-1714,"x2":4000,"y":5}]},"mark":{"type":"rule","color":"#EBEBEB"},"encoding":{"x2":{"field":"x2"},"strokeWidth":{"condition":{"test":"datum.y%2==0","value":2.5},"value":2}}},
{"data":{"values":[{"x":-1714,"x2":4000,"y":-0.735,"y2":6.05}]},"mark":{"type":"rect","fillOpacity":0,"stroke":"#4D4D4D","strokeWidth":2},"encoding":{"x2":{"field":"x2"},"y2":{"field":"y2"}}},
{"data":{"name":"ccl8"},"mark":{"type":"circle","size":72,"color":"black","opacity":1}},
{"data":{"values":[{"x":-1480,"y":-0.46,"hi":-0.06},{"x":-500,"y":0.365,"hi":0.585},{"x":500,"y":1.155,"hi":1.295},{"x":1000,"y":1.54,"hi":1.66},{"x":1500,"y":1.905,"hi":2.045},{"x":2500,"y":2.595,"hi":2.855},{"x":3750,"y":3.44,"hi":3.88}]},"mark":{"type":"area","color":"#999999","opacity":0.4},"encoding":{"y2":{"field":"hi"}}},
{"data":{"values":[{"x":-1480,"y":-0.26},{"x":3750,"y":3.66}]},"mark":{"type":"line","color":"#3366FF","strokeWidth":3}},
{"data":{"values":[{"x":-1460,"y":5.53,"t":"R"},{"x":-483,"y":5.53,"t":"p"}]},"mark":{"type":"text","align":"left","fontSize":13,"fontStyle":"italic"},"encoding":{"text":{"field":"t"}}},
{"data":{"values":[{"x":-1230,"y":5.53,"t":"= 0.69,"},{"x":-310,"y":5.53,"t":"< 2.2e−16"}]},"mark":{"type":"text","align":"left","fontSize":13},"encoding":{"text":{"field":"t"}}}]},
{"data":{"values":[{"y":5.75,"d":0.02},{"y":5,"d":0.06},{"y":4.5,"d":0.1},{"y":4,"d":0.16},{"y":3.5,"d":0.2},{"y":3,"d":0.3},{"y":2.6,"d":0.45},{"y":2.2,"d":0.52},{"y":2,"d":0.58},{"y":1.6,"d":0.75},{"y":1.2,"d":0.92},{"y":0.8,"d":1},{"y":0.5,"d":1},{"y":0.3,"d":0.83},{"y":0.1,"d":0.5},{"y":-0.1,"d":0.27},{"y":-0.3,"d":0.1},{"y":-0.45,"d":0.02}]},"width":160,"height":310,"encoding":{"x":{"field":"d","type":"quantitative","scale":{"domain":[0,1],"range":[3,65]},"axis":null},"y":{"field":"y","type":"quantitative","scale":{"domain":[-0.735,6.05],"range":[305,0]},"axis":null}},"layer":[{"mark":{"type":"area","orient":"horizontal","color":"#0000FF","opacity":1,"interpolate":"catmull-rom"}},{"mark":{"type":"line","color":"black","strokeWidth":2,"interpolate":"catmull-rom"},"encoding":{"order":{"field":"y"}}}]},
{"width":335,"height":310,"encoding":{"x":{"field":"x","type":"quantitative","scale":{"domain":[-1714,4000],"range":[8,337]},"axis":{"offset":-4,"values":[-1000,0,1000,2000,3000,4000],"format":"d","labelOffset":{"condition":[{"test":"datum.value==0","value":3},{"test":"datum.value==-1000","value":17}],"value":14},"labelPadding":2,"title":"ImmuneScore","titleX":204,"titleY":33,"titleBaseline":"middle"}},"y":{"field":"y","type":"quantitative","scale":{"domain":[-0.43,8.32],"range":[306,3]},"axis":{"offset":-8,"values":[0,2,4,6,8],"format":"d","labelPadding":2,"title":"FCGR2C","titleX":-21,"titleY":134}}},
"layer":[{"data":{"values":[{"x":-1500,"y":-0.43,"y2":8.32},{"x":-1000,"y":-0.43,"y2":8.32},{"x":-500,"y":-0.43,"y2":8.32},{"x":0,"y":-0.43,"y2":8.32},{"x":500,"y":-0.43,"y2":8.32},{"x":1000,"y":-0.43,"y2":8.32},{"x":1500,"y":-0.43,"y2":8.32},{"x":2000,"y":-0.43,"y2":8.32},{"x":2500,"y":-0.43,"y2":8.32},{"x":3000,"y":-0.43,"y2":8.32},{"x":3500,"y":-0.43,"y2":8.32}]},"mark":{"type":"rule","color":"#EBEBEB"},"encoding":{"y2":{"field":"y2"},"strokeWidth":{"condition":{"test":"datum.x%1000==0","value":2.5},"value":2}}},
{"data":{"values":[{"x":-1714,"x2":4000,"y":0},{"x":-1714,"x2":4000,"y":1},{"x":-1714,"x2":4000,"y":2},{"x":-1714,"x2":4000,"y":3},{"x":-1714,"x2":4000,"y":4},{"x":-1714,"x2":4000,"y":5},{"x":-1714,"x2":4000,"y":6},{"x":-1714,"x2":4000,"y":7},{"x":-1714,"x2":4000,"y":8}]},"mark":{"type":"rule","color":"#EBEBEB"},"encoding":{"x2":{"field":"x2"},"strokeWidth":{"condition":{"test":"datum.y%2==0","value":2.5},"value":2}}},
{"data":{"values":[{"x":-1714,"x2":4000,"y":-0.43,"y2":8.32}]},"mark":{"type":"rect","fillOpacity":0,"stroke":"#4D4D4D","strokeWidth":2},"encoding":{"x2":{"field":"x2"},"y2":{"field":"y2"}}},
{"data":{"name":"fcgr2c"},"mark":{"type":"circle","size":72,"color":"black","opacity":1}},
{"data":{"values":[{"x":-1480,"y":0.42,"hi":0.98},{"x":-500,"y":0.78,"hi":1.1},{"x":500,"y":1.08,"hi":1.28},{"x":1000,"y":1.21,"hi":1.39},{"x":1500,"y":1.32,"hi":1.52},{"x":2500,"y":1.5,"hi":1.84},{"x":3750,"y":1.66,"hi":2.28}]},"mark":{"type":"area","color":"#999999","opacity":0.4},"encoding":{"y2":{"field":"hi"}}},
{"data":{"values":[{"x":-1480,"y":0.7},{"x":3750,"y":1.97}]},"mark":{"type":"line","color":"#3366FF","strokeWidth":3}},
{"data":{"values":[{"x":-1433,"y":7.71,"t":"R"},{"x":-468,"y":7.71,"t":"p"}]},"mark":{"type":"text","align":"left","fontSize":13,"fontStyle":"italic"},"encoding":{"text":{"field":"t"}}},
{"data":{"values":[{"x":-1220,"y":7.71,"t":"= 0.29,"},{"x":-295,"y":7.71,"t":"= 1.3e−10"}]},"mark":{"type":"text","align":"left","fontSize":13},"encoding":{"text":{"field":"t"}}}]},
{"data":{"values":[{"y":8,"d":0.01},{"y":6,"d":0.01},{"y":4.9,"d":0.02},{"y":4.2,"d":0.05},{"y":2.96,"d":0.1},{"y":2.58,"d":0.17},{"y":2.19,"d":0.33},{"y":1.9,"d":0.42},{"y":1.42,"d":0.47},{"y":1.23,"d":0.55},{"y":0.94,"d":0.78},{"y":0.65,"d":0.97},{"y":0.5,"d":1},{"y":0.31,"d":0.92},{"y":0.16,"d":0.7},{"y":0,"d":0.52}]},"width":128,"height":310,"encoding":{"x":{"field":"d","type":"quantitative","scale":{"domain":[0,1],"range":[3,65]},"axis":null},"y":{"field":"y","type":"quantitative","scale":{"domain":[-0.43,8.32],"range":[306,3]},"axis":null}},"layer":[{"mark":{"type":"area","orient":"horizontal","color":"#0000FF","opacity":1,"interpolate":"catmull-rom"}},{"mark":{"type":"line","color":"black","strokeWidth":2,"interpolate":"catmull-rom"},"encoding":{"order":{"field":"y"}}}]},
{"width":336,"height":310,"encoding":{"x":{"field":"x","type":"quantitative","scale":{"domain":[-1714,4000],"range":[2,335]},"axis":{"offset":-4,"values":[-1000,0,1000,2000,3000,4000],"format":"d","labelOffset":{"condition":[{"test":"datum.value==0","value":3},{"test":"datum.value==-1000","value":17}],"value":14},"labelPadding":2,"title":"ImmuneScore","titleX":201,"titleY":33,"titleBaseline":"middle"}},"y":{"field":"y","type":"quantitative","scale":{"domain":[-0.11,6.79],"range":[306,1]},"axis":{"offset":-2,"values":[0,2,4,6],"format":"d","labelColor":"#222222","labelPadding":2,"title":"OAS1","titleX":-20,"titleY":143}}},
"layer":[{"data":{"values":[{"x":-1500,"y":-0.11,"y2":6.79},{"x":-1000,"y":-0.11,"y2":6.79},{"x":-500,"y":-0.11,"y2":6.79},{"x":0,"y":-0.11,"y2":6.79},{"x":500,"y":-0.11,"y2":6.79},{"x":1000,"y":-0.11,"y2":6.79},{"x":1500,"y":-0.11,"y2":6.79},{"x":2000,"y":-0.11,"y2":6.79},{"x":2500,"y":-0.11,"y2":6.79},{"x":3000,"y":-0.11,"y2":6.79},{"x":3500,"y":-0.11,"y2":6.79}]},"mark":{"type":"rule","color":"#EBEBEB"},"encoding":{"y2":{"field":"y2"},"strokeWidth":{"condition":{"test":"datum.x%1000==0","value":2.5},"value":2}}},
{"data":{"values":[{"x":-1714,"x2":4000,"y":0},{"x":-1714,"x2":4000,"y":1},{"x":-1714,"x2":4000,"y":2},{"x":-1714,"x2":4000,"y":3},{"x":-1714,"x2":4000,"y":4},{"x":-1714,"x2":4000,"y":5},{"x":-1714,"x2":4000,"y":6}]},"mark":{"type":"rule","color":"#EBEBEB"},"encoding":{"x2":{"field":"x2"},"strokeWidth":{"condition":{"test":"datum.y%2==0","value":2.5},"value":2}}},
{"data":{"values":[{"x":-1714,"x2":4000,"y":-0.11,"y2":6.79}]},"mark":{"type":"rect","fillOpacity":0,"stroke":"#4D4D4D","strokeWidth":2},"encoding":{"x2":{"field":"x2"},"y2":{"field":"y2"}}},
{"data":{"name":"oas1"},"mark":{"type":"circle","size":72,"color":"black","opacity":1}},
{"data":{"values":[{"x":-1480,"y":0.88,"hi":1.38},{"x":-500,"y":1.61,"hi":1.87},{"x":500,"y":2.28,"hi":2.44},{"x":1000,"y":2.6,"hi":2.74},{"x":1500,"y":2.9,"hi":3.06},{"x":2500,"y":3.46,"hi":3.74},{"x":3750,"y":4.11,"hi":4.63}]},"mark":{"type":"area","color":"#999999","opacity":0.4},"encoding":{"y2":{"field":"hi"}}},
{"data":{"values":[{"x":-1480,"y":1.13},{"x":3750,"y":4.37}]},"mark":{"type":"line","color":"#3366FF","strokeWidth":3}},
{"data":{"values":[{"x":-1440,"y":6.31,"t":"R"},{"x":-410,"y":6.31,"t":"p"}]},"mark":{"type":"text","align":"left","fontSize":13,"fontStyle":"italic"},"encoding":{"text":{"field":"t"}}},
{"data":{"values":[{"x":-1210,"y":6.31,"t":"= 0.59 ,"},{"x":-240,"y":6.31,"t":"< 2.2e−16"}]},"mark":{"type":"text","align":"left","fontSize":13},"encoding":{"text":{"field":"t"}}}]},
{"data":{"values":[{"y":6.54,"d":0.01},{"y":6.1,"d":0.02},{"y":5.57,"d":0.1},{"y":4.97,"d":0.27},{"y":4.51,"d":0.45},{"y":4.06,"d":0.64},{"y":3.61,"d":0.78},{"y":3.23,"d":0.9},{"y":2.74,"d":1},{"y":2.25,"d":0.93},{"y":1.8,"d":0.82},{"y":1.42,"d":0.65},{"y":1.04,"d":0.48},{"y":0.66,"d":0.3},{"y":0.36,"d":0.12},{"y":0.21,"d":0.05}]},"width":64,"height":310,"encoding":{"x":{"field":"d","type":"quantitative","scale":{"domain":[0,1],"range":[2,64]},"axis":null},"y":{"field":"y","type":"quantitative","scale":{"domain":[-0.11,6.79],"range":[306,1]},"axis":null}},"layer":[{"mark":{"type":"area","orient":"horizontal","color":"#0000FF","opacity":1,"interpolate":"catmull-rom"}},{"mark":{"type":"line","color":"black","strokeWidth":2,"interpolate":"catmull-rom"},"encoding":{"order":{"field":"y"}}}]},

{"data":{"name":"top"},"width":429,"height":178,"title":{"text":"Cancer: SKCM","dx":93,"dy":117.4},"mark":{"type":"area","color":"#FFA500","opacity":1,"interpolate":"monotone","line":{"color":"black","strokeWidth":2}},"encoding":{"x":{"field":"x","type":"quantitative","scale":{"domain":[-1714,4000],"range":[95,427]},"axis":null},"y":{"field":"d","type":"quantitative","scale":{"domain":[0,1],"range":[179,121]},"axis":null}}},
{"data":{"name":"none"},"mark":"rect","width":160,"height":178,"title":{"text":"G","fontSize":40,"fontWeight":"bold","dx":-429,"dy":88.5}},
{"data":{"name":"top"},"width":335,"height":178,"title":{"text":"Cancer: SKCM","dy":121.4},"mark":{"type":"area","color":"#FFA500","opacity":1,"interpolate":"monotone","line":{"color":"black","strokeWidth":2}},"encoding":{"x":{"field":"x","type":"quantitative","scale":{"domain":[-1714,4000],"range":[0,333]},"axis":null},"y":{"field":"d","type":"quantitative","scale":{"domain":[0,1],"range":[182,124]},"axis":null}}},
{"data":{"name":"none"},"mark":"rect","width":128,"height":178,"title":{"text":"H","fontSize":40,"fontWeight":"bold","dx":-450,"dy":88.5}},
{"data":{"name":"top"},"width":336,"height":178,"title":{"text":"Cancer: SKCM","dx":2,"dy":115.4},"mark":{"type":"area","color":"#FFA500","opacity":1,"interpolate":"monotone","line":{"color":"black","strokeWidth":2}},"encoding":{"x":{"field":"x","type":"quantitative","scale":{"domain":[-1714,4000],"range":[0,334]},"axis":null},"y":{"field":"d","type":"quantitative","scale":{"domain":[0,1],"range":[177,119]},"axis":null}}},
{"data":{"name":"none"},"mark":"rect","width":64,"height":178,"title":{"text":"I","fontSize":40,"fontWeight":"bold","dx":-390,"dy":93.5}},

{"width":429,"height":310,"encoding":{"x":{"field":"x","type":"quantitative","scale":{"domain":[-1714,4000],"range":[95,427]},"axis":{"offset":-4,"values":[-1000,0,1000,2000,3000,4000],"format":"d","labelOffset":{"condition":[{"test":"datum.value==0","value":3},{"test":"datum.value==-1000","value":17}],"value":14},"labelPadding":2,"labelColor":"#333333","title":"ImmuneScore","titleX":292,"titleY":41,"titleBaseline":"middle"}},"y":{"field":"y","type":"quantitative","scale":{"domain":[0.15,5.8],"range":[306,1]},"axis":{"offset":-95,"values":[1,2,3,4,5],"format":"d","labelColor":"#222222","labelPadding":2,"title":"HAPLN3","titleX":-22,"titleY":134}}},
"layer":[{"data":{"values":[{"x":-1500,"y":0.15,"y2":5.8},{"x":-1000,"y":0.15,"y2":5.8},{"x":-500,"y":0.15,"y2":5.8},{"x":0,"y":0.15,"y2":5.8},{"x":500,"y":0.15,"y2":5.8},{"x":1000,"y":0.15,"y2":5.8},{"x":1500,"y":0.15,"y2":5.8},{"x":2000,"y":0.15,"y2":5.8},{"x":2500,"y":0.15,"y2":5.8},{"x":3000,"y":0.15,"y2":5.8},{"x":3500,"y":0.15,"y2":5.8}]},"mark":{"type":"rule","color":"#EBEBEB"},"encoding":{"y2":{"field":"y2"},"strokeWidth":{"condition":{"test":"datum.x%1000==0","value":2.5},"value":2}}},
{"data":{"values":[{"x":-1714,"x2":4000,"y":0.5},{"x":-1714,"x2":4000,"y":1},{"x":-1714,"x2":4000,"y":1.5},{"x":-1714,"x2":4000,"y":2},{"x":-1714,"x2":4000,"y":2.5},{"x":-1714,"x2":4000,"y":3},{"x":-1714,"x2":4000,"y":3.5},{"x":-1714,"x2":4000,"y":4},{"x":-1714,"x2":4000,"y":4.5},{"x":-1714,"x2":4000,"y":5},{"x":-1714,"x2":4000,"y":5.5}]},"mark":{"type":"rule","color":"#EBEBEB"},"encoding":{"x2":{"field":"x2"},"strokeWidth":{"condition":{"test":"datum.y%1==0","value":2.5},"value":2}}},
{"data":{"values":[{"x":-1714,"x2":4000,"y":0.15,"y2":5.8}]},"mark":{"type":"rect","fillOpacity":0,"stroke":"#4D4D4D","strokeWidth":2},"encoding":{"x2":{"field":"x2"},"y2":{"field":"y2"}}},
{"data":{"name":"hapln3"},"mark":{"type":"circle","size":72,"color":"black","opacity":1}},
{"data":{"values":[{"x":-1480,"y":1.28,"hi":1.76},{"x":-500,"y":1.95,"hi":2.21},{"x":500,"y":2.58,"hi":2.74},{"x":1000,"y":2.88,"hi":3.02},{"x":1500,"y":3.16,"hi":3.32},{"x":2500,"y":3.67,"hi":3.95},{"x":3750,"y":4.28,"hi":4.78}]},"mark":{"type":"area","color":"#999999","opacity":0.4},"encoding":{"y2":{"field":"hi"}}},
{"data":{"values":[{"x":-1480,"y":1.52},{"x":3750,"y":4.53}]},"mark":{"type":"line","color":"#3366FF","strokeWidth":3}},
{"data":{"values":[{"x":-1440,"y":5.38,"t":"R"},{"x":-543,"y":5.38,"t":"p"}]},"mark":{"type":"text","align":"left","fontSize":13,"fontStyle":"italic"},"encoding":{"text":{"field":"t"}}},
{"data":{"values":[{"x":-1228,"y":5.38,"t":"= 0.6 ,"},{"x":-354,"y":5.38,"t":"< 2.2e−16"}]},"mark":{"type":"text","align":"left","fontSize":13},"encoding":{"text":{"field":"t"}}}]},
{"data":{"values":[{"y":5.55,"d":0.04},{"y":5.23,"d":0.1},{"y":4.8,"d":0.3},{"y":4.37,"d":0.48},{"y":3.94,"d":0.7},{"y":3.57,"d":0.86},{"y":3.26,"d":0.95},{"y":2.9,"d":1},{"y":2.59,"d":0.88},{"y":2.34,"d":0.7},{"y":2.1,"d":0.63},{"y":1.73,"d":0.55},{"y":1.42,"d":0.4},{"y":1.11,"d":0.2},{"y":0.8,"d":0.1},{"y":0.42,"d":0.03}]},"width":160,"height":310,"encoding":{"x":{"field":"d","type":"quantitative","scale":{"domain":[0,1],"range":[0,61]},"axis":null},"y":{"field":"y","type":"quantitative","scale":{"domain":[0.15,5.8],"range":[306,1]},"axis":null}},"layer":[{"mark":{"type":"area","orient":"horizontal","color":"#0000FF","opacity":1,"interpolate":"catmull-rom"}},{"mark":{"type":"line","color":"black","strokeWidth":2,"interpolate":"catmull-rom"},"encoding":{"order":{"field":"y"}}}]},
{"width":335,"height":310,"encoding":{"x":{"field":"x","type":"quantitative","scale":{"domain":[-1714,4000],"range":[0,333]},"axis":{"values":[-1000,0,1000,2000,3000,4000],"format":"d","labelOffset":{"condition":[{"test":"datum.value==0","value":3},{"test":"datum.value==-1000","value":17}],"value":14},"labelPadding":2,"title":"ImmuneScore","titleX":198,"titleY":37,"titleBaseline":"middle"}},"y":{"field":"y","type":"quantitative","scale":{"domain":[0.43,6.29],"range":[310,4]},"axis":{"values":[2,4,6],"format":"d","labelPadding":2,"title":"WIPF1","titleX":-20,"titleY":144}}},
"layer":[{"data":{"values":[{"x":-1500,"y":0.43,"y2":6.29},{"x":-1000,"y":0.43,"y2":6.29},{"x":-500,"y":0.43,"y2":6.29},{"x":0,"y":0.43,"y2":6.29},{"x":500,"y":0.43,"y2":6.29},{"x":1000,"y":0.43,"y2":6.29},{"x":1500,"y":0.43,"y2":6.29},{"x":2000,"y":0.43,"y2":6.29},{"x":2500,"y":0.43,"y2":6.29},{"x":3000,"y":0.43,"y2":6.29},{"x":3500,"y":0.43,"y2":6.29}]},"mark":{"type":"rule","color":"#EBEBEB"},"encoding":{"y2":{"field":"y2"},"strokeWidth":{"condition":{"test":"datum.x%1000==0","value":2.5},"value":2}}},
{"data":{"values":[{"x":-1714,"x2":4000,"y":1},{"x":-1714,"x2":4000,"y":2},{"x":-1714,"x2":4000,"y":3},{"x":-1714,"x2":4000,"y":4},{"x":-1714,"x2":4000,"y":5},{"x":-1714,"x2":4000,"y":6}]},"mark":{"type":"rule","color":"#EBEBEB"},"encoding":{"x2":{"field":"x2"},"strokeWidth":{"condition":{"test":"datum.y%2==0","value":2.5},"value":2}}},
{"data":{"values":[{"x":-1714,"x2":4000,"y":0.43,"y2":6.29}]},"mark":{"type":"rect","fillOpacity":0,"stroke":"#333333","strokeWidth":2},"encoding":{"x2":{"field":"x2"},"y2":{"field":"y2"}}},
{"data":{"name":"wipf1"},"mark":{"type":"circle","size":72,"color":"black","opacity":1}},
{"data":{"values":[{"x":-1480,"y":2.1,"hi":2.7},{"x":-500,"y":2.78,"hi":3.1},{"x":500,"y":3.41,"hi":3.59},{"x":1000,"y":3.7,"hi":3.86},{"x":1500,"y":3.96,"hi":4.14},{"x":2500,"y":4.44,"hi":4.78},{"x":3750,"y":5,"hi":5.6}]},"mark":{"type":"area","color":"#999999","opacity":0.4},"encoding":{"y2":{"field":"hi"}}},
{"data":{"values":[{"x":-1480,"y":2.4},{"x":3750,"y":5.3}]},"mark":{"type":"line","color":"#3366FF","strokeWidth":3}},
{"data":{"values":[{"x":-1452,"y":5.86,"t":"R"},{"x":-488,"y":5.86,"t":"p"}]},"mark":{"type":"text","align":"left","fontSize":13,"fontStyle":"italic"},"encoding":{"text":{"field":"t"}}},
{"data":{"values":[{"x":-1234,"y":5.86,"t":"= 0.47,"},{"x":-304,"y":5.86,"t":"< 2.2e−16"}]},"mark":{"type":"text","align":"left","fontSize":13},"encoding":{"text":{"field":"t"}}}]},
{"data":{"values":[{"y":6.06,"d":0.17},{"y":5.76,"d":0.3},{"y":5.37,"d":0.6},{"y":4.93,"d":0.78},{"y":4.61,"d":0.9},{"y":4.22,"d":1},{"y":3.84,"d":0.93},{"y":3.46,"d":0.75},{"y":3.07,"d":0.7},{"y":2.69,"d":0.55},{"y":2.18,"d":0.37},{"y":1.67,"d":0.25},{"y":1.16,"d":0.15},{"y":0.71,"d":0.07}]},"width":128,"height":310,"encoding":{"x":{"field":"d","type":"quantitative","scale":{"domain":[0,1],"range":[0,60]},"axis":null},"y":{"field":"y","type":"quantitative","scale":{"domain":[0.43,6.29],"range":[310,4]},"axis":null}},"layer":[{"mark":{"type":"area","orient":"horizontal","color":"#0000FF","opacity":1,"interpolate":"catmull-rom"}},{"mark":{"type":"line","color":"black","strokeWidth":2,"interpolate":"catmull-rom"},"encoding":{"order":{"field":"y"}}}]},
{"width":336,"height":310,"encoding":{"x":{"field":"x","type":"quantitative","scale":{"domain":[-1714,4000],"range":[0,334]},"axis":{"offset":-5,"values":[-1000,0,1000,2000,3000,4000],"format":"d","labelOffset":{"condition":[{"test":"datum.value==0","value":3},{"test":"datum.value==-1000","value":17}],"value":14},"labelPadding":2,"labelColor":"#444444","title":"ImmuneScore","titleX":200,"titleY":40,"titleBaseline":"middle"}},"y":{"field":"y","type":"quantitative","scale":{"domain":[-0.21,5.6],"range":[305,0]},"axis":{"values":[0,2,4],"format":"d","labelColor":"#222222","labelPadding":2,"title":"CLIC2","titleX":-18,"titleY":137}}},
"layer":[{"data":{"values":[{"x":-1500,"y":-0.21,"y2":5.6},{"x":-1000,"y":-0.21,"y2":5.6},{"x":-500,"y":-0.21,"y2":5.6},{"x":0,"y":-0.21,"y2":5.6},{"x":500,"y":-0.21,"y2":5.6},{"x":1000,"y":-0.21,"y2":5.6},{"x":1500,"y":-0.21,"y2":5.6},{"x":2000,"y":-0.21,"y2":5.6},{"x":2500,"y":-0.21,"y2":5.6},{"x":3000,"y":-0.21,"y2":5.6},{"x":3500,"y":-0.21,"y2":5.6}]},"mark":{"type":"rule","color":"#EBEBEB"},"encoding":{"y2":{"field":"y2"},"strokeWidth":{"condition":{"test":"datum.x%1000==0","value":2.5},"value":2}}},
{"data":{"values":[{"x":-1714,"x2":4000,"y":0},{"x":-1714,"x2":4000,"y":1},{"x":-1714,"x2":4000,"y":2},{"x":-1714,"x2":4000,"y":3},{"x":-1714,"x2":4000,"y":4},{"x":-1714,"x2":4000,"y":5}]},"mark":{"type":"rule","color":"#EBEBEB"},"encoding":{"x2":{"field":"x2"},"strokeWidth":{"condition":{"test":"datum.y%2==0","value":2.5},"value":2}}},
{"data":{"values":[{"x":-1714,"x2":4000,"y":-0.21,"y2":5.6}]},"mark":{"type":"rect","fillOpacity":0,"stroke":"#4D4D4D","strokeWidth":2},"encoding":{"x2":{"field":"x2"},"y2":{"field":"y2"}}},
{"data":{"name":"clic2"},"mark":{"type":"circle","size":72,"color":"black","opacity":1}},
{"data":{"values":[{"x":-1480,"y":0,"hi":0.5},{"x":-500,"y":0.73,"hi":1.01},{"x":500,"y":1.43,"hi":1.59},{"x":1000,"y":1.75,"hi":1.89},{"x":1500,"y":2.06,"hi":2.22},{"x":2500,"y":2.63,"hi":2.91},{"x":3750,"y":3.3,"hi":3.82}]},"mark":{"type":"area","color":"#999999","opacity":0.4},"encoding":{"y2":{"field":"hi"}}},
{"data":{"values":[{"x":-1480,"y":0.25},{"x":3750,"y":3.56}]},"mark":{"type":"line","color":"#3366FF","strokeWidth":3}},
{"data":{"values":[{"x":-1445,"y":5.2,"t":"R"},{"x":-428,"y":5.2,"t":"p"}]},"mark":{"type":"text","align":"left","fontSize":13,"fontStyle":"italic"},"encoding":{"text":{"field":"t"}}},
{"data":{"values":[{"x":-1228,"y":5.2,"t":"= 0.61 ,"},{"x":-257,"y":5.2,"t":"< 2.2e−16"}]},"mark":{"type":"text","align":"left","fontSize":13},"encoding":{"text":{"field":"t"}}}]},
{"data":{"values":[{"y":5.37,"d":0.02},{"y":5,"d":0.05},{"y":4.57,"d":0.12},{"y":4.06,"d":0.25},{"y":3.75,"d":0.32},{"y":3.31,"d":0.36},{"y":2.93,"d":0.42},{"y":2.49,"d":0.55},{"y":2.05,"d":0.7},{"y":1.67,"d":0.85},{"y":1.29,"d":0.97},{"y":1,"d":1},{"y":0.72,"d":0.95},{"y":0.47,"d":0.75},{"y":0.28,"d":0.55},{"y":0.11,"d":0.35}]},"width":64,"height":310,"encoding":{"x":{"field":"d","type":"quantitative","scale":{"domain":[0,1],"range":[1,63]},"axis":null},"y":{"field":"y","type":"quantitative","scale":{"domain":[-0.21,5.6],"range":[305,0]},"axis":null}},"layer":[{"mark":{"type":"area","orient":"horizontal","color":"#0000FF","opacity":1,"interpolate":"catmull-rom"}},{"mark":{"type":"line","color":"black","strokeWidth":2,"interpolate":"catmull-rom"},"encoding":{"order":{"field":"y"}}}]}
]}
